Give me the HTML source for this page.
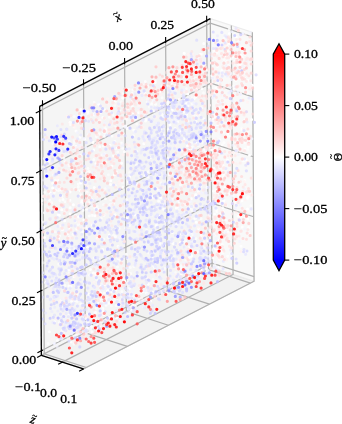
<!DOCTYPE html>
<html><head><meta charset="utf-8"><style>html,body{margin:0;padding:0;background:#fff;}svg{display:block;will-change:transform;}</style></head>
<body><svg width="342" height="424" viewBox="0 0 342 424">
<rect width="342" height="424" fill="#fff"/>
<polygon points="39.64,106.31 210.32,18.57 212.06,267.59 41.38,355.32" fill="#f5f5f5" stroke="#e8e8e8" stroke-width="1.2" stroke-linejoin="round"/>
<polygon points="41.38,355.32 212.06,267.59 254.07,281.22 83.39,368.96" fill="#f2f2f2" stroke="#dedede" stroke-width="1.2" stroke-linejoin="round"/>
<polygon points="210.32,18.57 252.34,32.21 254.07,281.22 212.06,267.59" fill="#f9f9f9" stroke="#ececec" stroke-width="1.2" stroke-linejoin="round"/>
<g><polyline points="42.51,104.84 44.24,353.85 86.26,367.49" fill="none" stroke="#b0b0b0" stroke-width="1.2"/><polyline points="83.55,83.74 85.29,332.75 127.30,346.39" fill="none" stroke="#b0b0b0" stroke-width="1.2"/><polyline points="124.60,62.64 126.33,311.65 168.35,325.29" fill="none" stroke="#b0b0b0" stroke-width="1.2"/><polyline points="165.64,41.54 167.38,290.55 209.39,304.19" fill="none" stroke="#b0b0b0" stroke-width="1.2"/><polyline points="206.69,20.44 208.43,269.46 250.44,283.09" fill="none" stroke="#b0b0b0" stroke-width="1.2"/><polyline points="41.34,350.79 212.03,263.06 254.04,276.69" fill="none" stroke="#b0b0b0" stroke-width="1.2"/><polyline points="40.93,290.84 211.61,203.11 253.63,216.74" fill="none" stroke="#b0b0b0" stroke-width="1.2"/><polyline points="40.51,230.89 211.19,143.16 253.21,156.79" fill="none" stroke="#b0b0b0" stroke-width="1.2"/><polyline points="40.09,170.94 210.78,83.21 252.79,96.84" fill="none" stroke="#b0b0b0" stroke-width="1.2"/><polyline points="39.67,110.99 210.36,23.26 252.37,36.89" fill="none" stroke="#b0b0b0" stroke-width="1.2"/><polyline points="41.38,355.32 212.06,267.59 210.32,18.57" fill="none" stroke="#b0b0b0" stroke-width="1.2"/><polyline points="62.38,362.14 233.07,274.41 231.33,25.39" fill="none" stroke="#b0b0b0" stroke-width="1.2"/><polyline points="83.39,368.96 254.07,281.22 252.34,32.21" fill="none" stroke="#b0b0b0" stroke-width="1.2"/></g>
<g fill="none" stroke-linecap="round"><path d="M176.6 200.1h0M79.7 145.7h0M233.6 86.0h0M110.5 199.6h0M192.1 154.5h0M118.0 288.6h0M247.8 149.2h0M195.3 195.9h0M172.1 198.2h0M62.6 145.3h0M129.0 149.5h0M184.6 98.5h0M241.1 47.0h0M171.3 165.9h0M185.2 264.9h0M130.4 267.6h0M248.4 233.6h0M113.5 235.0h0M207.3 75.0h0M245.7 52.5h0M195.3 164.7h0M91.0 198.8h0M154.7 87.0h0M219.4 176.1h0M147.1 102.1h0M191.9 96.5h0M161.0 182.6h0M104.8 118.7h0M101.2 323.9h0M194.2 206.2h0M72.1 230.0h0M244.5 142.4h0M99.2 329.6h0M165.0 268.4h0M117.9 258.6h0M221.3 80.4h0M194.9 280.3h0M185.7 154.6h0M73.2 144.5h0M94.1 102.2h0M117.5 266.9h0M217.7 88.6h0M62.2 330.6h0M172.4 180.9h0M100.3 296.3h0M195.8 271.0h0M93.2 215.5h0M183.2 285.6h0M209.2 87.4h0M88.4 331.5h0M116.0 185.8h0M148.6 253.0h0M128.4 298.4h0M186.5 88.5h0M78.1 224.8h0M219.8 172.6h0M58.7 264.3h0M200.6 150.4h0M229.5 129.0h0M101.3 218.3h0M98.0 329.3h0M138.9 105.9h0M71.8 293.0h0M109.9 219.8h0M123.9 204.6h0M155.3 91.7h0M42.9 231.3h0M173.6 83.3h0M100.1 300.5h0M81.1 233.0h0M210.1 232.5h0M185.3 175.0h0M119.3 228.6h0M106.5 284.4h0M102.0 155.1h0M162.4 156.9h0M87.8 313.9h0M188.9 66.7h0M235.5 236.2h0M126.9 312.8h0M177.1 179.1h0M131.4 307.9h0M237.3 75.0h0M70.1 191.5h0M203.5 92.7h0M69.0 315.1h0M113.0 215.9h0M239.4 65.6h0M173.9 158.1h0M99.1 322.5h0M215.9 162.0h0M59.9 200.4h0M108.7 237.5h0M196.0 163.1h0M97.3 325.0h0M97.2 206.5h0M109.4 117.2h0M178.5 79.7h0M217.8 267.6h0M176.2 176.9h0M223.5 226.7h0M125.7 208.0h0M223.8 172.7h0M110.1 284.7h0M119.3 103.5h0M133.7 266.4h0M111.7 317.9h0M146.6 230.1h0M75.5 221.4h0M220.5 213.7h0M102.3 110.9h0M202.0 53.9h0M196.8 271.6h0M219.7 140.4h0M66.6 288.9h0M139.1 299.8h0M195.0 66.9h0M151.8 131.1h0M128.9 89.4h0M228.4 55.4h0M91.7 205.4h0M101.4 312.2h0M122.9 278.5h0M198.9 143.9h0M48.2 343.5h0M244.7 119.8h0M193.9 219.0h0M198.6 145.7h0M135.5 117.7h0M55.2 296.8h0M149.4 281.5h0M215.0 263.7h0M159.7 166.9h0M191.3 209.3h0M248.3 131.4h0M185.9 127.4h0M193.7 272.0h0M190.9 262.8h0M74.2 143.2h0M148.5 187.7h0M51.2 193.9h0M202.6 142.7h0M171.9 174.1h0M210.0 156.7h0M106.2 212.7h0M89.7 176.8h0M108.1 237.5h0M111.3 306.1h0M99.3 291.0h0M238.4 64.8h0M145.1 114.9h0M129.5 172.5h0M93.1 327.7h0M125.1 126.9h0M152.5 102.4h0M124.4 152.0h0M191.4 142.9h0M157.7 275.1h0M147.7 207.7h0M113.2 312.1h0M208.8 210.3h0M105.4 132.1h0M80.7 194.8h0M111.4 287.2h0M117.7 152.0h0M202.4 142.2h0M191.1 237.2h0M152.9 197.9h0M131.4 292.9h0M149.5 107.0h0M111.1 112.3h0M136.8 124.1h0M182.0 270.8h0M139.3 103.4h0M129.4 225.4h0M174.0 91.5h0M232.5 254.7h0M114.8 105.2h0M128.2 106.2h0M230.1 136.9h0M165.8 175.5h0M237.6 181.8h0M250.8 205.4h0M192.9 234.5h0M78.2 189.8h0M152.3 80.9h0M127.8 188.4h0M108.8 275.2h0M180.9 207.4h0M214.1 50.7h0M175.0 128.3h0M161.8 86.1h0M188.6 234.2h0M105.0 134.5h0M96.7 142.0h0M159.7 158.5h0M186.8 74.8h0M129.2 210.0h0M63.4 241.8h0M156.8 93.4h0M58.5 290.4h0M233.5 126.0h0M112.1 301.4h0M64.9 201.7h0M233.0 119.2h0M210.5 147.0h0M75.3 215.1h0" stroke="#ffffff" stroke-width="3" stroke-opacity="0.6"/><path d="M221.8 70.6h0M103.9 314.8h0M176.4 208.0h0M129.6 313.1h0M218.9 175.3h0M152.3 231.5h0M179.2 201.8h0M47.0 173.4h0M218.3 189.7h0M195.9 183.0h0M48.7 161.3h0M136.0 118.3h0M90.4 269.5h0M101.4 310.6h0M102.6 249.6h0M69.1 237.1h0M76.0 131.0h0M231.5 157.3h0M58.2 214.5h0M223.2 211.7h0M238.2 216.2h0M216.1 172.0h0M247.8 219.1h0M240.4 64.4h0M127.3 128.5h0M84.6 138.9h0M154.5 91.7h0M186.6 69.9h0M200.4 54.2h0M236.3 36.9h0M217.1 126.0h0M234.0 89.6h0M103.8 132.0h0M88.3 294.1h0M203.5 165.3h0M170.0 124.7h0M65.1 161.7h0M102.8 117.5h0M208.5 216.7h0M213.9 168.3h0M197.0 115.0h0M51.7 202.8h0M177.7 264.7h0M83.1 210.3h0M113.6 203.5h0M70.0 228.8h0M160.0 91.4h0M125.7 126.0h0M183.2 151.0h0M155.2 82.6h0M64.6 220.7h0M68.9 285.9h0M182.9 242.3h0M180.9 274.4h0M132.2 93.6h0M87.7 172.8h0M184.2 203.7h0M94.9 263.9h0M75.9 146.5h0M191.1 232.2h0M114.8 141.5h0M83.8 219.8h0M229.3 33.5h0M122.3 236.7h0M92.1 332.1h0M203.6 157.7h0M192.3 151.5h0M55.3 208.9h0M196.3 175.0h0M76.8 229.0h0M98.2 209.5h0M77.2 337.9h0M102.0 274.6h0M104.8 154.1h0M185.4 265.0h0M108.7 303.2h0M238.6 40.9h0M112.5 203.9h0M188.8 150.7h0M171.1 200.9h0M89.2 171.5h0M213.0 202.9h0M196.6 279.8h0M122.5 93.7h0M111.9 166.3h0M41.6 289.4h0M167.7 104.6h0M218.1 267.7h0M109.2 234.9h0M111.2 290.2h0M187.0 70.9h0M177.5 121.7h0M231.4 58.9h0M111.8 291.4h0M197.4 175.9h0M115.9 290.6h0M187.0 275.1h0M95.2 273.6h0M116.6 317.7h0M94.3 187.5h0M82.8 231.4h0M213.7 249.1h0M87.4 247.3h0M191.6 174.9h0M197.3 274.0h0M172.5 232.6h0M227.8 134.1h0M61.7 209.8h0M196.7 182.8h0M114.8 280.0h0M103.3 310.9h0M209.4 240.6h0M51.7 238.6h0M148.4 284.2h0M128.3 182.1h0M188.8 258.1h0M134.7 215.1h0M159.7 175.4h0M75.5 234.7h0M194.2 98.4h0M207.2 164.6h0M196.8 89.2h0M246.1 160.0h0M94.6 276.1h0M59.6 225.8h0M104.2 154.1h0M205.1 151.1h0M71.6 301.0h0M91.3 329.2h0M215.5 245.9h0M148.8 300.2h0M158.6 201.0h0M203.8 43.5h0M227.4 121.2h0M190.6 238.0h0M167.8 102.2h0M238.8 121.5h0M133.4 242.6h0M109.0 316.4h0M121.0 300.0h0M182.1 139.4h0M123.0 187.5h0M100.0 120.5h0M173.2 243.6h0M174.9 158.9h0M126.2 254.2h0M182.5 77.3h0M236.7 54.3h0M189.7 200.6h0M232.5 195.8h0M168.9 169.1h0M102.8 308.4h0M178.0 200.7h0M104.6 313.5h0M93.2 273.1h0M186.4 116.5h0M114.3 174.7h0M163.6 209.2h0M209.1 236.1h0M208.3 137.1h0M81.8 249.0h0M199.0 213.9h0M227.5 159.9h0M209.4 201.3h0M223.4 201.2h0M133.0 310.2h0M44.5 237.5h0M68.7 269.9h0M240.9 216.2h0M138.6 112.4h0M81.9 201.0h0M79.6 123.0h0M201.8 88.4h0M206.4 82.7h0M191.3 198.7h0M145.2 175.6h0M71.0 286.6h0M143.8 143.8h0M132.7 304.9h0M210.4 119.2h0M198.5 228.6h0M153.0 292.5h0M63.0 199.6h0M159.2 216.5h0M185.4 159.2h0M218.8 221.3h0M207.1 265.6h0M217.0 211.5h0M119.8 237.2h0M54.1 151.7h0M237.2 77.8h0M247.5 198.3h0M211.7 75.8h0M154.4 267.2h0M91.2 326.3h0M153.8 110.9h0M242.2 226.9h0M70.0 213.8h0M217.4 66.3h0M113.1 317.8h0M188.5 149.6h0M93.6 149.9h0M103.1 271.3h0M202.4 80.2h0M208.2 166.1h0M70.1 262.4h0M242.3 56.9h0M204.4 132.8h0M143.9 306.9h0M196.2 169.0h0M235.9 76.7h0M62.5 229.8h0M127.4 282.4h0M171.3 189.8h0M247.5 208.9h0M49.3 253.4h0M192.4 77.1h0M191.1 80.2h0M71.3 342.0h0M190.5 256.9h0M68.9 165.3h0M89.5 296.4h0M95.9 163.8h0M207.6 140.3h0M146.2 119.4h0M110.5 184.4h0M189.4 146.3h0M57.8 180.0h0M80.0 123.0h0M71.9 299.3h0" stroke="#ffffff" stroke-width="3" stroke-opacity="0.9"/><path d="M224.0 55.5h0M183.8 242.5h0M94.9 208.0h0M119.9 111.1h0M63.1 333.5h0M78.3 184.0h0M148.4 171.7h0M99.6 274.2h0M216.6 210.1h0M168.0 241.0h0M236.9 59.4h0M116.6 299.7h0M136.6 164.7h0M87.1 192.3h0M105.4 198.5h0M210.9 136.6h0M120.3 167.2h0M194.8 274.3h0M184.2 213.9h0M222.7 252.8h0M195.8 194.2h0M111.1 316.0h0M96.9 134.0h0M43.0 222.0h0M77.1 301.2h0M116.2 305.6h0M224.0 142.5h0M249.0 140.0h0M203.4 247.4h0M200.1 165.1h0M101.6 285.7h0M102.2 98.4h0M87.9 113.2h0M195.5 78.0h0M176.4 224.8h0M223.2 165.6h0M211.3 243.5h0M65.0 285.6h0M162.2 128.5h0M227.7 256.2h0M200.8 186.3h0M152.1 257.8h0M62.1 196.5h0M143.9 286.0h0M163.4 220.8h0M229.3 43.6h0M168.0 181.6h0M74.7 336.3h0M173.0 180.6h0M99.4 259.8h0M96.0 308.6h0M176.2 291.4h0M209.1 154.9h0M156.4 223.7h0M203.1 242.8h0M193.8 77.9h0M126.9 268.1h0M55.5 180.0h0M216.0 152.6h0M214.0 129.0h0M96.4 136.6h0M181.8 165.4h0M171.3 166.2h0M54.8 254.7h0M104.5 136.5h0M54.3 192.5h0M122.7 148.3h0M87.7 327.8h0M97.8 330.3h0M93.8 159.4h0M175.0 159.2h0M208.3 220.5h0M234.6 202.0h0M80.4 155.4h0M225.7 220.3h0M169.5 112.5h0M74.7 300.5h0M44.8 192.3h0M86.0 227.5h0M192.2 103.7h0M247.5 93.5h0M195.9 238.6h0M183.7 111.9h0M180.8 273.1h0M95.5 277.5h0M52.8 143.5h0M113.6 155.8h0M89.0 202.7h0M88.0 168.4h0M201.1 218.7h0M105.0 272.2h0M190.2 273.9h0M63.0 307.5h0M205.6 151.6h0M91.9 215.2h0M125.6 227.7h0M58.5 190.6h0M184.5 157.7h0M203.4 242.0h0M167.0 257.4h0M119.5 260.0h0M121.8 291.6h0M194.0 115.2h0M151.7 215.0h0M208.5 256.4h0M133.1 295.9h0M185.6 240.7h0M69.0 273.4h0M73.9 343.9h0M206.8 266.3h0M196.8 273.2h0M222.4 244.4h0M216.7 71.6h0M185.0 110.7h0M80.7 303.9h0M181.0 265.8h0M128.4 296.1h0M119.4 315.1h0M83.9 266.9h0M133.3 135.8h0M71.7 169.8h0M73.1 234.3h0M100.6 112.8h0M59.5 236.1h0M219.5 84.2h0M72.9 169.9h0M80.7 115.8h0M213.4 120.4h0M189.8 148.2h0M175.1 85.1h0M167.4 293.3h0M163.4 135.0h0M83.9 139.4h0M167.9 158.3h0M226.8 61.6h0M129.9 128.1h0M89.2 324.0h0M162.1 97.7h0M201.1 237.3h0M213.1 250.3h0M105.8 300.6h0M192.5 147.1h0M195.4 218.5h0M42.1 200.5h0M185.9 103.8h0M196.8 158.5h0M44.4 212.7h0M115.3 281.3h0M252.0 87.3h0M100.0 264.4h0M167.4 85.5h0M69.2 141.2h0M99.2 133.8h0M139.1 297.7h0M147.8 86.4h0M49.4 200.1h0M132.9 89.9h0M74.9 248.2h0M78.3 186.7h0M78.8 339.6h0M207.5 228.3h0M223.3 132.2h0M158.6 190.3h0M240.0 54.4h0M190.9 157.2h0M95.8 312.6h0M238.1 237.1h0M79.6 196.3h0M123.9 126.0h0M94.0 114.6h0M162.9 116.3h0M125.3 117.5h0M106.4 275.3h0M113.0 114.8h0M43.2 166.8h0M102.4 284.3h0M93.1 142.5h0M238.6 195.2h0M87.5 186.8h0M183.5 172.1h0M234.7 61.5h0M132.1 101.2h0M74.2 127.0h0M157.0 188.2h0M226.2 228.9h0M215.3 234.0h0M132.2 106.0h0M170.4 87.6h0M206.0 181.6h0M235.8 80.4h0M195.9 161.3h0M169.9 167.0h0M81.1 181.7h0M59.4 322.5h0M112.9 316.0h0M109.7 280.3h0M209.9 230.6h0M130.7 273.6h0M217.2 52.2h0M177.9 206.7h0M222.3 144.7h0M106.7 319.1h0M90.7 190.1h0M196.2 121.4h0M100.2 159.9h0M148.0 176.8h0M103.9 239.1h0M103.1 301.1h0" stroke="#ffffff" stroke-width="3" stroke-opacity="0.7"/><path d="M43.8 227.5h0M119.5 270.9h0M120.8 314.0h0M69.9 200.2h0M98.4 303.6h0M230.0 127.7h0M231.0 73.4h0M168.3 129.6h0M203.0 266.1h0M70.0 192.0h0M151.5 104.3h0M223.7 106.8h0M189.7 148.2h0M169.2 167.2h0M212.1 127.4h0M219.1 240.2h0M105.5 325.1h0M59.1 187.8h0M222.9 223.1h0M204.5 150.0h0M168.9 94.5h0M226.3 44.7h0M208.9 235.2h0M52.7 183.2h0M49.4 331.8h0M247.9 80.2h0M176.5 169.6h0M216.1 251.5h0M100.4 325.7h0M150.9 157.7h0M100.9 298.8h0M214.8 196.5h0M180.1 131.1h0M190.0 80.7h0M152.8 196.5h0M219.4 139.8h0M80.5 223.5h0M67.6 233.7h0M169.1 174.4h0M169.6 261.3h0M127.4 258.4h0M124.6 151.4h0M81.5 172.7h0M115.3 101.3h0M239.2 77.9h0M133.5 301.2h0M86.6 209.0h0M105.7 129.3h0M179.8 70.7h0M63.7 333.2h0M104.1 293.1h0M114.6 298.2h0M134.0 98.3h0M202.8 61.9h0M144.3 85.0h0M115.5 236.6h0M240.2 55.7h0M53.7 174.5h0M188.4 276.7h0M67.3 308.8h0M89.2 216.0h0M224.0 200.3h0M243.5 160.7h0M55.4 210.7h0M201.2 235.2h0M222.8 207.5h0M135.5 306.3h0M224.9 187.7h0M74.8 149.0h0M198.9 58.2h0M214.0 149.0h0M190.6 207.0h0M55.7 190.0h0M181.2 200.3h0M113.0 216.2h0M183.7 139.0h0M110.5 321.3h0M116.3 171.4h0M64.7 323.8h0M179.7 233.8h0M193.0 68.3h0M90.1 330.0h0M248.3 196.7h0M63.9 143.1h0M174.6 166.5h0M221.9 245.2h0M108.0 290.6h0M104.4 284.5h0M96.2 319.9h0M198.3 191.5h0M177.0 89.8h0M226.6 156.8h0M167.9 83.8h0M60.3 150.0h0M162.2 114.4h0M183.1 160.6h0M188.7 103.0h0M90.6 194.9h0M193.7 80.1h0M162.0 86.1h0M161.6 104.9h0M160.0 243.8h0M92.2 199.7h0M248.6 227.5h0M223.7 174.2h0M110.8 295.8h0M176.2 169.9h0M212.9 257.7h0M180.5 184.8h0M63.9 158.3h0M194.7 87.7h0M186.2 204.7h0M126.3 199.5h0M145.3 81.4h0M213.2 118.5h0M106.1 305.2h0M120.1 320.1h0M248.2 146.7h0M218.7 107.3h0M115.9 148.3h0M78.8 115.6h0M136.9 151.6h0M216.0 87.8h0M83.3 206.7h0M215.1 152.3h0M176.1 118.9h0M136.4 117.5h0M93.2 142.4h0M106.0 162.2h0M197.7 251.5h0M145.5 120.9h0M155.2 80.6h0M216.5 190.2h0M153.5 265.5h0M171.0 199.3h0M76.9 333.6h0M118.0 246.2h0M70.1 207.8h0M120.2 271.5h0M178.3 178.9h0M230.6 127.1h0M70.5 124.6h0M102.1 164.0h0M94.9 172.4h0M45.5 282.5h0M147.6 278.3h0M128.9 295.1h0M244.7 180.6h0M203.7 118.8h0M154.4 195.7h0M97.0 238.4h0M199.1 166.6h0M195.5 195.3h0M81.9 203.5h0M61.7 189.7h0M84.3 118.7h0M104.6 109.4h0M97.5 323.1h0M214.6 214.3h0M218.1 170.6h0M95.5 300.9h0M194.0 152.2h0M245.0 149.1h0M175.2 178.3h0M79.9 137.2h0M119.4 294.3h0M215.1 115.0h0M207.1 173.2h0M229.2 43.2h0M94.7 113.8h0M141.2 292.2h0M196.8 144.1h0M133.7 130.2h0M223.9 109.7h0M146.4 293.1h0M217.7 160.4h0M110.1 145.3h0M104.0 215.3h0M203.8 66.1h0M155.6 104.2h0M132.8 112.5h0M97.5 328.6h0M103.3 146.0h0M244.7 78.0h0M129.3 288.4h0M233.8 193.7h0M76.8 294.0h0M82.3 166.8h0M196.4 155.3h0M61.4 189.9h0M169.8 203.5h0M112.0 135.9h0M143.7 291.6h0M109.9 204.8h0M115.1 214.7h0M241.0 246.2h0M176.3 276.6h0M199.7 59.3h0M123.5 280.2h0M201.4 107.7h0M117.7 271.9h0M223.4 176.4h0M125.3 118.8h0M192.5 154.0h0M186.7 114.2h0M92.2 225.1h0M121.5 143.3h0M229.3 29.2h0M169.6 186.8h0M201.7 258.2h0M185.2 212.8h0M157.6 285.7h0M187.9 105.4h0M228.6 136.1h0M96.9 321.1h0M180.4 242.5h0M213.4 191.0h0M79.4 272.2h0M116.8 281.9h0M186.4 102.4h0M191.0 255.9h0M70.9 171.0h0M188.0 120.4h0M123.3 133.5h0M119.4 195.7h0M160.2 204.1h0M153.5 101.0h0M57.4 340.6h0M99.8 146.7h0" stroke="#ffffff" stroke-width="3" stroke-opacity="0.8"/><path d="M172.4 83.9h0M219.3 259.1h0M236.0 142.7h0M58.6 238.3h0M50.5 193.1h0M214.7 117.4h0M95.7 176.3h0M81.7 202.8h0M181.4 268.6h0M232.6 56.9h0M227.0 225.5h0M98.7 104.3h0M156.5 225.8h0M198.1 70.0h0M99.5 330.1h0M73.4 204.8h0M131.8 117.3h0M192.1 150.6h0M252.5 85.3h0M207.0 271.3h0M186.7 64.9h0M60.3 300.9h0M160.7 197.7h0M127.1 217.8h0M184.2 83.7h0M80.4 190.8h0M59.3 215.3h0M163.9 271.5h0M145.2 93.6h0M206.7 269.6h0M191.8 255.8h0M180.2 132.6h0M110.8 180.8h0M177.3 261.7h0M245.4 216.7h0M211.5 150.0h0M107.3 291.1h0M241.1 55.5h0M207.9 240.9h0M80.6 183.0h0M54.8 321.8h0M249.5 155.2h0M242.0 200.8h0M187.5 145.7h0M168.5 108.3h0M195.7 143.0h0M218.0 191.9h0M150.5 300.9h0M179.3 99.3h0M124.7 281.0h0M80.8 109.5h0M46.2 186.2h0M91.4 317.1h0M189.2 247.5h0M85.6 318.4h0M183.6 232.4h0M69.3 250.0h0M207.2 187.3h0M206.7 70.2h0M95.0 312.1h0M147.7 289.7h0M107.0 272.1h0M81.7 178.8h0M196.0 161.8h0M95.1 215.7h0M218.4 80.8h0M164.3 206.1h0M202.5 269.7h0M71.5 247.2h0M86.7 327.8h0M100.7 286.2h0M187.7 94.0h0M225.0 56.2h0M121.6 163.2h0M97.1 162.4h0M172.3 110.1h0M89.8 275.0h0M190.0 201.2h0M222.6 250.9h0M214.9 202.6h0M229.7 194.6h0M100.5 293.1h0M228.0 232.5h0M216.4 249.8h0M177.0 72.4h0M227.4 74.0h0M251.6 119.6h0M78.5 217.1h0M74.2 276.6h0M241.9 129.3h0M131.5 309.9h0M129.6 176.5h0M172.3 159.1h0M244.8 54.2h0M52.6 188.1h0M195.7 97.0h0M137.5 184.6h0M196.3 222.3h0" stroke="#ffffff" stroke-width="3"/><path d="M164.1 244.9h0M199.4 115.3h0M50.0 229.1h0M195.3 186.2h0M55.8 134.4h0M200.3 274.9h0M121.4 101.7h0M251.5 194.6h0M122.7 182.4h0M127.4 109.4h0M175.1 162.4h0M223.3 74.3h0M74.2 140.7h0M74.6 188.6h0M222.2 42.5h0M50.6 201.5h0M55.3 231.8h0M153.1 279.4h0M87.9 134.7h0M207.5 256.3h0M163.0 184.6h0M175.4 272.5h0M114.1 301.0h0M47.8 208.2h0M89.5 302.1h0M118.3 294.5h0M139.8 287.6h0M230.0 103.1h0M241.6 127.9h0M199.4 218.9h0M147.2 98.9h0M177.5 190.6h0M147.9 243.0h0M94.4 115.2h0M183.9 153.6h0M103.5 204.4h0M77.4 332.0h0M85.8 183.6h0M105.4 188.4h0M80.1 311.6h0M96.6 279.5h0M226.4 206.1h0M83.6 287.5h0M183.2 160.8h0M105.0 127.3h0M230.6 253.2h0M40.7 262.6h0M228.1 51.6h0M185.0 247.1h0M71.3 338.6h0M216.7 80.2h0M179.3 209.1h0M166.7 103.1h0M243.3 75.2h0M188.9 278.7h0M62.2 171.5h0M60.9 139.3h0M224.0 59.4h0M87.9 321.6h0M165.6 77.5h0M107.3 298.0h0M155.2 98.1h0M94.0 258.0h0M244.3 250.8h0M115.0 127.0h0M247.1 197.3h0M174.2 256.2h0M212.5 268.0h0M214.0 268.5h0M129.6 190.1h0M108.4 174.7h0M96.0 305.1h0M212.6 225.2h0M116.2 250.2h0M167.6 199.2h0M185.8 260.1h0M224.5 37.4h0M225.1 136.3h0M56.3 181.3h0M127.0 119.6h0M154.4 282.9h0M43.4 262.8h0M209.8 126.6h0M228.4 65.5h0M192.3 210.8h0M235.9 59.2h0M67.4 336.6h0M149.2 231.4h0" stroke="#ffffff" stroke-width="3" stroke-opacity="0.5"/><path d="M209.5 96.1h0M202.5 152.0h0M193.0 61.6h0M178.0 281.6h0M210.3 78.2h0M200.7 140.1h0M226.6 112.2h0M129.6 183.8h0M85.1 332.6h0M96.9 324.1h0M103.1 176.3h0M145.2 141.9h0M149.3 199.6h0M67.3 170.8h0M185.7 203.8h0M163.4 105.3h0M103.3 208.0h0M128.1 294.3h0M205.0 64.9h0M74.9 313.4h0M155.6 95.1h0M222.9 107.5h0M82.2 267.5h0M102.8 157.8h0M171.2 268.9h0M237.1 164.0h0M220.9 210.3h0M179.7 99.1h0M240.1 113.9h0M219.0 211.3h0M205.2 263.9h0M213.2 217.0h0M178.5 172.8h0M216.9 195.1h0M110.1 227.8h0M92.7 318.1h0M122.3 174.7h0M194.2 247.7h0M95.3 332.5h0M80.4 145.9h0M192.2 95.3h0M185.7 219.8h0M232.2 198.2h0M122.9 172.0h0M51.1 202.4h0M245.6 152.3h0M111.7 286.3h0M96.3 268.4h0M184.0 161.9h0M107.0 320.7h0M131.8 215.2h0M146.6 98.9h0M118.2 297.3h0M83.8 111.2h0M192.8 178.2h0" stroke="#fff2f2" stroke-width="3" stroke-opacity="0.5"/><path d="M178.9 282.0h0M139.8 241.1h0M240.7 93.2h0M216.5 79.1h0M178.5 259.2h0M247.4 136.6h0M138.8 110.0h0M183.9 92.8h0M179.4 64.7h0M216.7 151.8h0M127.5 282.9h0M164.7 167.0h0M194.7 155.5h0M62.6 156.1h0M98.3 160.8h0M86.2 317.1h0M225.7 103.7h0M100.6 324.4h0M235.8 235.8h0M206.2 219.0h0M103.7 190.7h0M151.7 248.8h0M133.1 301.2h0M160.7 94.5h0M121.5 90.5h0M181.7 93.6h0M245.6 62.5h0M220.4 181.4h0M216.0 130.5h0M175.2 267.9h0M106.1 296.2h0M115.8 310.4h0M166.1 277.0h0M99.6 118.2h0M234.2 75.7h0M83.9 228.0h0M210.6 95.1h0M87.1 304.7h0M213.7 71.5h0M183.6 173.8h0M100.6 294.3h0M112.9 159.7h0M75.1 172.1h0M85.0 184.1h0M97.7 240.2h0M196.5 166.7h0M222.1 74.8h0M142.2 94.2h0M110.4 272.0h0M180.7 63.5h0M111.7 243.8h0M95.3 145.7h0M80.1 161.8h0M183.3 280.4h0M96.2 197.1h0M115.1 292.1h0M188.8 160.9h0M154.9 78.4h0M185.7 250.5h0M209.6 105.3h0M97.3 285.8h0M96.1 235.4h0M84.2 334.7h0M193.0 54.3h0M199.2 88.1h0M74.1 125.4h0M91.8 107.1h0M235.4 109.3h0M183.9 185.9h0M243.7 210.2h0M71.0 331.6h0M119.1 181.4h0M185.0 148.9h0M67.1 116.3h0M173.4 79.8h0M138.6 184.8h0M237.9 110.4h0M219.5 46.7h0M236.9 150.8h0M50.6 290.9h0M243.8 76.4h0M75.0 276.2h0M114.6 123.0h0M208.4 204.2h0M235.2 53.7h0M230.8 248.3h0M94.7 156.6h0M158.6 285.6h0M158.7 93.2h0M242.8 150.4h0M199.4 178.3h0M214.7 161.3h0M232.9 115.4h0M108.5 262.7h0M159.8 89.2h0M71.8 295.6h0M197.8 244.4h0" stroke="#fff2f2" stroke-width="3" stroke-opacity="0.9"/><path d="M198.3 96.5h0M75.4 139.6h0M205.2 74.7h0M139.8 92.2h0M167.7 70.5h0M70.0 340.0h0M76.7 147.5h0M226.6 260.3h0M94.6 145.9h0M52.1 339.0h0M239.8 112.2h0M178.0 195.7h0M110.7 323.2h0M169.9 69.6h0M118.7 183.9h0M67.2 165.1h0M208.2 214.0h0M211.8 115.4h0M212.5 127.6h0M232.4 75.9h0M192.0 114.5h0M110.7 190.0h0M200.7 136.2h0M180.8 277.3h0M175.4 262.9h0M170.7 177.4h0M186.9 279.1h0M203.1 156.4h0M102.2 111.1h0M251.1 90.0h0M216.9 183.3h0M168.3 160.4h0M72.4 293.7h0M148.7 277.5h0M80.1 311.7h0M122.3 303.6h0M109.7 281.8h0M146.1 270.8h0M155.3 298.1h0M217.3 131.6h0M225.6 112.8h0M65.0 212.4h0M124.5 284.9h0M118.3 131.2h0M219.6 174.7h0M56.2 182.4h0M202.0 151.8h0M241.1 60.3h0M98.1 126.1h0M87.4 131.3h0M187.5 207.9h0M77.4 290.8h0M96.0 222.1h0M207.4 238.7h0M238.7 75.9h0M173.8 84.4h0M78.2 204.0h0M154.8 199.0h0M122.5 260.4h0M215.8 139.1h0M245.3 200.1h0M91.7 305.3h0M164.1 201.6h0M187.4 174.5h0M238.1 122.1h0M215.7 201.0h0M215.8 76.8h0M139.0 106.7h0M215.3 158.3h0M246.7 62.5h0M108.6 124.2h0M224.7 69.2h0M252.5 59.4h0M235.4 163.5h0M77.6 299.1h0M214.4 255.9h0M64.0 313.7h0M136.0 86.3h0M229.7 98.8h0M94.0 282.3h0M240.2 151.2h0M170.2 94.4h0M177.2 205.6h0M164.1 252.4h0M137.3 277.3h0M114.7 182.6h0M109.6 197.8h0M187.4 238.4h0M86.7 300.5h0M235.7 115.2h0M94.0 205.5h0M224.7 227.2h0M217.6 180.7h0M84.1 175.6h0M132.2 277.2h0M204.5 235.5h0M82.3 111.4h0M110.8 124.7h0M129.2 96.4h0M56.4 173.0h0M228.0 53.4h0M245.2 35.1h0M142.0 280.1h0M225.9 128.6h0" stroke="#fff2f2" stroke-width="3" stroke-opacity="0.7"/><path d="M187.2 273.2h0M109.9 158.4h0M168.8 252.3h0M197.3 175.1h0M231.5 79.6h0M119.0 211.5h0M238.5 103.7h0M85.1 330.0h0M192.3 106.6h0M202.8 243.6h0M230.8 195.7h0M84.5 321.8h0M199.9 59.9h0M128.4 309.2h0M180.2 207.9h0M221.8 93.7h0M100.7 231.2h0M168.4 133.8h0M237.8 91.8h0M232.3 100.8h0M187.9 150.2h0M194.9 230.5h0M206.2 192.4h0M177.2 200.0h0M173.2 273.6h0M183.8 89.4h0M104.7 288.9h0M85.8 147.6h0M222.3 115.5h0M106.5 258.0h0M178.9 130.5h0M138.9 223.6h0M59.7 163.5h0M182.8 107.8h0M240.6 94.6h0M65.3 251.5h0M88.8 311.7h0M117.7 108.6h0M201.7 193.1h0M132.6 291.5h0M113.5 317.9h0M66.2 230.4h0M212.9 249.9h0M176.3 120.0h0M159.7 108.6h0M94.8 240.1h0M55.2 199.2h0M151.3 207.7h0M226.9 162.1h0M129.5 296.5h0M104.3 154.1h0M164.7 204.2h0M127.5 296.6h0M235.5 208.1h0M157.3 267.9h0M196.8 279.4h0M137.1 255.2h0M53.7 196.7h0M66.8 297.8h0M71.7 333.5h0M192.8 241.9h0M182.1 235.8h0M76.3 172.8h0M170.1 238.4h0M156.2 123.0h0M126.8 284.3h0M68.6 297.8h0M180.8 164.0h0M80.4 120.8h0M138.8 205.9h0M169.6 179.0h0M238.1 115.6h0M239.2 42.8h0M56.8 144.8h0M226.9 72.4h0M181.5 160.0h0M55.6 186.7h0M123.2 201.7h0M105.5 168.1h0M195.5 164.3h0M143.8 193.8h0M197.3 277.1h0M141.2 236.3h0M95.3 165.9h0M162.6 103.0h0M67.0 304.0h0M95.9 131.1h0M171.5 279.3h0M190.5 89.9h0M119.6 237.3h0" stroke="#f2f2ff" stroke-width="3" stroke-opacity="0.9"/><path d="M77.2 219.1h0M57.7 152.0h0M242.5 66.1h0M198.3 182.1h0M132.4 118.7h0M131.3 86.0h0M180.3 276.0h0M105.3 101.5h0M127.1 229.7h0M191.7 188.6h0M95.2 111.0h0M228.4 233.7h0M139.4 298.6h0M196.5 75.6h0M59.0 205.9h0M107.8 104.9h0M142.6 83.1h0M65.8 275.7h0M99.4 293.3h0M194.6 149.1h0M222.1 125.4h0M193.4 265.0h0M229.5 42.1h0M222.5 136.6h0M118.2 284.5h0M142.0 99.5h0M79.8 228.1h0M180.7 256.0h0M41.7 204.2h0M219.5 258.5h0M84.7 169.5h0M190.4 144.7h0M140.6 112.5h0M75.5 342.7h0M63.4 242.3h0M113.0 283.4h0M195.3 233.6h0M154.2 78.4h0M197.2 87.3h0M66.3 264.9h0M112.0 159.9h0M139.0 265.7h0M53.6 149.1h0M221.1 53.4h0M178.2 195.7h0M166.9 207.2h0M163.5 187.5h0M90.6 222.6h0M115.1 104.0h0M117.5 104.6h0M230.8 96.9h0M241.8 71.0h0M59.9 225.2h0M215.0 48.5h0M169.0 290.8h0M119.0 106.3h0M203.3 165.9h0M147.8 89.5h0M236.4 152.2h0M162.8 78.8h0M43.3 195.7h0M52.7 172.7h0M175.8 274.5h0M171.6 87.6h0M199.8 276.7h0M230.3 103.1h0M196.9 179.6h0M148.9 268.3h0M88.4 188.2h0M218.8 47.1h0M130.9 97.6h0M204.5 239.6h0M64.6 144.9h0M216.0 161.7h0M112.1 256.6h0M220.4 95.8h0M107.4 260.6h0M183.6 152.3h0M221.9 163.8h0M246.4 165.6h0M95.2 195.5h0M101.4 121.5h0M106.6 226.4h0M113.4 268.8h0M99.0 155.9h0M122.0 182.1h0M232.7 198.5h0M211.2 234.3h0M82.1 161.2h0M200.0 172.2h0M138.0 238.9h0M215.6 221.8h0M192.4 273.6h0M187.8 199.3h0M221.3 266.5h0M103.7 105.3h0M216.6 123.3h0M230.8 72.8h0M235.6 54.7h0M147.3 289.8h0M78.4 124.8h0M243.5 62.1h0M218.0 110.2h0M186.3 164.2h0M95.0 202.3h0M169.3 178.4h0M242.1 35.3h0M185.6 166.8h0M247.7 213.5h0M202.9 157.9h0M234.3 243.7h0M69.1 123.0h0M180.3 138.3h0M160.4 180.6h0M81.7 164.7h0M193.9 85.5h0M113.2 120.3h0M51.0 164.2h0M75.7 147.6h0M105.1 326.1h0M103.1 255.6h0M110.9 269.7h0M145.3 139.7h0" stroke="#fff2f2" stroke-width="3" stroke-opacity="0.6"/><path d="M64.1 291.1h0M168.5 95.0h0M214.9 262.1h0M119.3 287.4h0M125.6 127.1h0M59.4 306.9h0M66.0 210.1h0M180.7 82.3h0M73.7 209.0h0M112.4 250.8h0M155.9 144.0h0M207.4 195.1h0M184.6 283.2h0M99.6 199.7h0M83.0 170.3h0M201.7 135.2h0M231.9 31.7h0M182.5 100.8h0M78.8 152.3h0M184.1 262.7h0M124.0 285.4h0M199.2 213.5h0M220.5 103.4h0M195.6 154.5h0M177.1 198.7h0M129.0 196.7h0M149.5 175.7h0M156.5 171.9h0M237.7 77.0h0M156.0 154.5h0M203.0 168.8h0M83.7 138.3h0M170.1 76.7h0M210.2 221.1h0M130.5 174.3h0M65.2 261.5h0M100.6 232.5h0M180.3 114.8h0M86.2 329.1h0M239.5 241.4h0M216.0 238.4h0M202.5 263.7h0M95.9 176.5h0M102.6 284.6h0M150.3 226.8h0M224.9 116.8h0M60.5 322.9h0M95.0 244.0h0M155.2 252.5h0M199.1 72.3h0M174.1 225.7h0M224.9 97.0h0M251.9 138.7h0M105.0 122.8h0M244.5 189.2h0M136.3 308.2h0M150.5 256.8h0M72.7 331.9h0M75.5 115.2h0M146.5 165.6h0M217.4 106.2h0M63.0 245.9h0M80.5 327.0h0M231.3 181.3h0M94.3 323.5h0M190.5 201.4h0M218.5 183.1h0M163.0 243.7h0M129.8 115.8h0M143.8 208.6h0M105.2 158.5h0M185.0 116.2h0M191.6 269.8h0M53.8 252.7h0M82.0 215.9h0M93.3 223.1h0M152.0 241.2h0M70.3 328.2h0M230.2 73.9h0M57.2 152.3h0M185.1 268.9h0M240.2 204.7h0M149.8 242.5h0M230.3 87.2h0M208.7 215.3h0M136.3 115.8h0M197.1 58.8h0M128.5 209.8h0M167.7 182.8h0" stroke="#f2f2ff" stroke-width="3" stroke-opacity="0.8"/><path d="M186.7 148.5h0M179.4 161.2h0M216.8 126.9h0M109.5 286.9h0M101.6 251.5h0M140.4 182.4h0M54.6 298.1h0M107.7 275.6h0M238.6 102.6h0M186.3 131.7h0M135.6 212.4h0M249.9 44.3h0M135.3 271.7h0M232.7 145.3h0M134.1 132.4h0M216.2 166.7h0M182.5 269.4h0M186.3 105.5h0M122.2 145.7h0M110.6 289.9h0M183.9 96.6h0M153.8 101.0h0M160.2 112.8h0M81.4 209.5h0M120.5 124.9h0M61.9 339.2h0M95.2 267.5h0M202.1 171.0h0M111.0 198.6h0M75.5 267.7h0M198.4 142.7h0M57.1 346.6h0M167.0 214.1h0M209.7 216.1h0M172.7 120.7h0M59.8 147.9h0M65.5 318.7h0M150.4 218.0h0M181.6 138.4h0M217.4 160.0h0M130.2 116.4h0M187.9 199.1h0M174.3 184.3h0M82.0 174.1h0M88.9 131.7h0M211.1 180.6h0M65.1 305.1h0M202.5 83.7h0M194.5 236.0h0M239.5 190.9h0M247.1 60.4h0M128.4 112.3h0M208.9 229.9h0M222.9 195.9h0M147.5 294.2h0M121.8 218.6h0M184.9 64.4h0M68.5 280.7h0M172.2 284.4h0M138.2 249.6h0M121.8 128.8h0M197.4 67.6h0M140.1 306.7h0M79.2 312.4h0M111.6 121.5h0M194.5 148.1h0M75.5 149.6h0M77.4 290.8h0M181.8 171.1h0M156.6 173.9h0M58.6 140.7h0M216.4 78.2h0M131.6 195.4h0M220.9 134.3h0M220.4 81.5h0M97.2 306.2h0M210.0 89.7h0M91.8 203.9h0M47.7 272.7h0M79.1 232.3h0M172.9 90.9h0M101.2 289.8h0M65.8 307.3h0M119.4 247.2h0M227.3 120.9h0M169.7 162.7h0M77.4 132.5h0M225.8 232.9h0M210.1 248.2h0M175.3 99.5h0M55.7 227.0h0M229.3 53.9h0M223.3 153.5h0M238.3 154.6h0M181.3 108.6h0M186.7 193.5h0M137.7 220.5h0M144.0 227.1h0M226.3 65.9h0M121.9 239.3h0M159.8 191.2h0" stroke="#f2f2ff" stroke-width="3" stroke-opacity="0.7"/><path d="M203.8 83.6h0M222.9 135.6h0M140.0 287.0h0M126.7 315.2h0M175.3 277.7h0M73.9 341.4h0M204.5 184.1h0M208.6 215.7h0M199.9 95.8h0M175.9 165.6h0M97.8 268.7h0M236.8 238.6h0M119.0 195.9h0M194.2 90.0h0M190.7 278.5h0M226.4 259.1h0M175.9 268.9h0M172.3 81.1h0M243.5 110.3h0M182.9 72.0h0M150.4 95.5h0M52.4 207.8h0M239.8 109.9h0M229.9 153.8h0M225.6 203.6h0M227.1 130.9h0M81.1 146.7h0M201.2 157.1h0M151.3 165.0h0M200.4 74.5h0M187.2 265.3h0M150.8 96.5h0M98.2 163.6h0M212.2 224.3h0M141.8 298.2h0M211.9 178.7h0M90.2 128.7h0M231.0 46.7h0M42.8 196.4h0M202.1 100.6h0M185.6 267.0h0M188.4 217.5h0M87.3 194.1h0M204.2 236.8h0M57.1 178.0h0M218.0 247.0h0M185.0 151.0h0M247.8 136.5h0M170.4 75.4h0M196.4 204.0h0M143.1 126.9h0M216.0 157.6h0M97.1 166.4h0M83.4 109.7h0M99.6 316.0h0M108.5 104.2h0M203.1 226.6h0M239.2 52.1h0M59.7 187.7h0M220.2 207.2h0M126.6 108.5h0M57.1 252.5h0M249.6 42.6h0M228.1 142.7h0M158.1 244.7h0M187.6 76.8h0M183.9 134.3h0M188.3 156.1h0M248.4 192.9h0M240.7 220.4h0M173.4 191.3h0M198.4 227.3h0M118.7 257.2h0M218.2 197.0h0M93.5 275.6h0M84.8 222.0h0M163.9 255.8h0M78.0 148.7h0M176.6 262.0h0M150.7 285.9h0M158.2 295.8h0M228.3 177.5h0M244.3 181.4h0M247.4 102.0h0M107.5 98.6h0M64.7 210.5h0M63.1 298.7h0M86.6 206.9h0M142.4 235.8h0M205.0 69.8h0M220.1 60.1h0M154.7 195.1h0M178.2 188.8h0M247.0 72.3h0M140.3 230.3h0M132.0 306.8h0" stroke="#fff2f2" stroke-width="3" stroke-opacity="0.8"/><path d="M130.2 292.9h0M192.2 56.7h0M146.3 111.9h0M121.2 264.0h0M175.9 146.4h0M251.0 86.2h0M79.0 222.1h0M247.6 144.6h0M213.1 155.4h0M123.0 154.7h0M218.2 186.8h0M178.7 244.3h0M240.4 57.1h0M85.1 113.5h0M239.8 48.0h0M116.1 136.5h0M243.5 128.9h0M102.0 314.0h0M137.4 245.7h0M217.9 71.8h0M232.5 152.5h0M129.3 145.4h0M70.3 237.6h0M100.0 106.8h0M97.9 239.3h0M138.0 214.9h0M193.7 224.6h0M210.1 63.1h0M56.7 318.8h0M129.1 299.4h0M66.2 331.0h0M156.1 117.3h0M202.8 175.9h0M182.3 193.8h0M108.6 130.7h0M58.5 259.8h0M240.9 251.6h0M225.4 107.8h0M58.2 177.1h0M169.7 93.8h0M119.8 305.2h0M113.2 212.2h0M232.9 120.4h0M86.4 332.9h0M87.4 186.0h0M181.6 272.4h0M101.8 159.7h0M198.9 193.5h0M60.2 197.6h0" stroke="#fff2f2" stroke-width="3"/><path d="M92.8 172.5h0M206.2 149.7h0M51.6 193.9h0M78.5 145.3h0M207.9 270.5h0M210.9 121.0h0M161.4 206.6h0M193.8 102.9h0M44.3 158.6h0M82.5 111.8h0M130.7 118.1h0M114.1 296.4h0M84.1 248.2h0M133.5 260.3h0M114.5 147.5h0M195.2 128.7h0M53.0 166.9h0M136.6 232.8h0M84.4 114.6h0M128.2 294.2h0M74.5 268.4h0M148.8 101.2h0M220.6 163.6h0M212.7 78.0h0M164.0 82.9h0M174.2 158.8h0M242.9 33.5h0M212.8 98.1h0M169.2 232.2h0M130.0 98.8h0M189.6 234.3h0M161.4 157.3h0M85.8 118.4h0M162.1 292.9h0M209.8 258.4h0M210.3 273.4h0M199.5 187.0h0M228.8 92.9h0M94.8 328.1h0M227.3 75.9h0M203.6 162.3h0M125.7 292.5h0M54.3 343.5h0M194.2 110.5h0M142.6 212.0h0M144.5 290.8h0M219.0 191.4h0M194.8 233.9h0M98.6 163.9h0M103.0 129.4h0" stroke="#f2f2ff" stroke-width="3"/><path d="M134.3 245.3h0M245.5 67.5h0M176.6 169.2h0M143.2 135.7h0M81.2 204.5h0M220.2 103.0h0M203.3 272.0h0M71.2 283.1h0M173.2 254.0h0M222.6 91.4h0M158.8 270.6h0M172.4 86.8h0M152.1 121.9h0M125.3 208.2h0M172.1 238.5h0M82.3 147.5h0M232.1 213.4h0M139.4 108.4h0M155.4 274.6h0M128.5 259.9h0M162.2 293.4h0M178.9 224.7h0M162.2 285.7h0M226.3 110.0h0M101.4 263.0h0M166.1 169.8h0M107.4 187.2h0M185.0 252.9h0M156.6 208.4h0M101.2 309.6h0M179.7 126.0h0M148.8 156.7h0M90.2 328.9h0M237.2 150.3h0M200.3 246.0h0M158.5 174.2h0M205.6 84.6h0M144.5 139.5h0M118.3 146.8h0M207.6 178.2h0M179.1 136.3h0M76.6 210.4h0M204.4 60.6h0M208.4 41.3h0M203.5 277.2h0M136.4 298.7h0M186.8 137.2h0M86.1 330.7h0M47.3 185.5h0M230.1 93.1h0M62.5 299.3h0M104.9 148.7h0M143.3 92.5h0M142.5 305.9h0M103.3 154.5h0M180.0 257.5h0M189.0 241.6h0M76.5 148.0h0M180.4 187.3h0M111.0 204.9h0M69.8 148.9h0M92.3 205.0h0M53.8 209.0h0M47.2 164.7h0M226.5 74.9h0M198.4 263.0h0M194.0 90.3h0M237.1 70.1h0M45.8 212.7h0M171.5 218.6h0M182.2 91.5h0M195.8 178.8h0M89.6 234.0h0M166.7 145.7h0M137.6 201.2h0M147.2 187.5h0M199.1 224.4h0" stroke="#f2f2ff" stroke-width="3" stroke-opacity="0.6"/><path d="M71.4 332.4h0M211.1 56.1h0M189.6 280.6h0M66.0 166.6h0M129.5 190.6h0M69.8 138.8h0M180.9 115.1h0M189.4 72.6h0M160.2 281.6h0M181.7 283.7h0M141.3 114.6h0M101.4 289.5h0M133.4 196.2h0M190.6 267.9h0M129.0 186.8h0M189.6 97.8h0M122.9 226.2h0M122.9 144.6h0M242.5 66.5h0M168.2 197.0h0M80.8 144.6h0M43.3 180.1h0M99.3 165.3h0M173.6 288.1h0M242.2 86.0h0M244.8 228.7h0M225.9 35.7h0M209.0 220.5h0M216.8 267.2h0M209.7 56.5h0M166.3 278.8h0M98.3 102.5h0M159.8 85.9h0M226.3 124.9h0M55.6 184.8h0M204.9 262.4h0M127.8 140.0h0M250.2 32.2h0M134.7 143.0h0M70.2 216.8h0M118.3 207.7h0M159.7 103.3h0M58.5 140.2h0M57.3 188.0h0M213.5 234.4h0" stroke="#f2f2ff" stroke-width="3" stroke-opacity="0.5"/><path d="M55.6 209.8h0M118.6 224.3h0M203.8 138.8h0M96.4 221.0h0M149.5 302.1h0M142.8 258.4h0M171.0 143.3h0M164.6 108.5h0M204.3 189.8h0M141.7 233.0h0M188.0 124.4h0M109.8 249.5h0M151.4 227.1h0M143.2 138.3h0M170.2 111.2h0M126.8 202.2h0M70.9 298.7h0M109.1 190.2h0M124.0 304.1h0M171.6 157.1h0M159.8 250.6h0M53.0 291.6h0M143.1 214.1h0M187.3 127.3h0M146.7 282.7h0M117.9 261.5h0M68.5 326.1h0M177.9 149.4h0M192.0 274.2h0M64.8 150.7h0M151.3 212.6h0M199.4 126.5h0M199.4 277.9h0M152.1 130.2h0M185.8 270.6h0M99.0 269.9h0M131.4 169.5h0M165.4 286.5h0M52.7 148.8h0M81.6 241.5h0M54.7 307.3h0M176.2 289.5h0M62.5 205.6h0M156.4 155.8h0M125.8 174.9h0M188.4 225.8h0M151.4 271.9h0M179.8 118.6h0M94.7 200.6h0M176.0 175.8h0M143.3 180.7h0M161.1 170.6h0M163.9 112.2h0M149.7 127.7h0M145.5 233.0h0M135.0 93.8h0M133.2 231.1h0M52.8 322.5h0M174.1 106.2h0M144.8 259.7h0M57.9 310.9h0M175.3 100.3h0M170.4 199.2h0M178.8 106.4h0M64.9 324.3h0M152.3 119.7h0M75.0 309.3h0M143.1 195.6h0M224.9 35.8h0M217.5 269.5h0M162.3 228.5h0M172.3 159.3h0M148.0 288.5h0M53.2 288.5h0M71.6 254.4h0M168.6 288.6h0M179.4 113.8h0M71.4 252.3h0M126.9 178.7h0M163.8 231.0h0M206.4 262.6h0M151.9 209.9h0" stroke="#e6e6ff" stroke-width="3" stroke-opacity="0.6"/><path d="M187.2 69.3h0M72.3 237.9h0M135.6 96.1h0M189.7 177.6h0M121.5 134.7h0M197.3 71.6h0M139.3 285.6h0M103.2 214.4h0M170.3 182.4h0M211.5 54.3h0M125.0 97.0h0M216.7 233.7h0M226.8 112.7h0M192.7 60.2h0M166.7 194.9h0M99.5 323.8h0M161.9 187.3h0M176.4 76.2h0M133.8 285.6h0M236.3 28.8h0M228.0 155.7h0M172.9 287.4h0M94.6 172.4h0M82.2 336.1h0M110.9 221.0h0M199.1 79.6h0M203.5 82.7h0M197.8 86.2h0M228.5 38.8h0M202.4 169.8h0M174.3 290.8h0M81.2 118.1h0M93.2 106.9h0M237.1 120.8h0M212.6 147.6h0M240.6 181.4h0M186.3 170.5h0M73.7 165.7h0M59.3 168.4h0M197.7 114.1h0M241.2 211.7h0M121.5 139.0h0M238.4 55.1h0M180.5 260.3h0M203.4 190.1h0M144.4 133.9h0M147.1 297.8h0M195.0 205.9h0M115.6 209.6h0M176.2 72.5h0M225.6 43.9h0M140.1 235.1h0M216.7 195.3h0M238.1 86.1h0M103.1 328.9h0M108.0 271.3h0M108.6 275.1h0M116.1 302.4h0M204.2 276.4h0M208.0 69.2h0M193.7 64.5h0M217.6 169.5h0M246.0 59.6h0M140.7 302.1h0M90.2 316.8h0M213.1 73.0h0M101.7 270.2h0M150.2 100.1h0M61.1 145.8h0M66.5 189.8h0M216.8 247.3h0M116.8 157.6h0M228.0 124.5h0M75.3 207.9h0M210.6 114.9h0M247.1 137.2h0M94.1 309.9h0" stroke="#ffe6e6" stroke-width="3" stroke-opacity="0.7"/><path d="M186.1 123.2h0M129.3 308.5h0M79.0 331.3h0M54.4 184.9h0M205.0 120.5h0M192.1 262.8h0M68.3 280.0h0M135.4 310.1h0M206.6 147.5h0M197.0 140.6h0M186.0 264.1h0M79.6 259.7h0M160.9 218.8h0M171.1 208.4h0M199.3 261.8h0M114.0 207.2h0M79.7 295.8h0M74.9 220.7h0M150.1 140.3h0M59.0 148.4h0M167.0 261.3h0M54.7 175.3h0M170.1 92.0h0M50.6 299.1h0M167.4 120.4h0M157.5 214.7h0M172.5 188.1h0M151.0 150.8h0M119.9 94.7h0M107.6 227.3h0M154.1 162.0h0M86.0 331.8h0M175.4 235.6h0" stroke="#e6e6ff" stroke-width="3"/><path d="M163.2 150.5h0M107.5 285.5h0M76.3 256.2h0M160.5 254.3h0M196.7 126.4h0M230.7 249.9h0M183.9 279.2h0M188.4 136.1h0M247.1 122.0h0M186.4 251.5h0M178.9 253.2h0M68.7 323.0h0M200.8 252.2h0M57.4 125.8h0M52.8 276.1h0M61.5 318.6h0M196.6 206.4h0M75.7 246.8h0M179.1 112.9h0M110.7 212.1h0M145.1 181.7h0M222.9 198.6h0M164.2 263.1h0M122.4 167.9h0M170.3 127.6h0M190.2 144.6h0M158.6 270.3h0M123.2 248.9h0M147.5 263.9h0M92.1 249.2h0M171.1 201.4h0M66.3 306.5h0M152.6 156.3h0M212.4 204.6h0M130.8 286.5h0M89.0 251.3h0M66.7 257.8h0M137.3 170.6h0M161.6 261.4h0M201.0 260.2h0M152.0 139.6h0M121.7 120.1h0M80.8 135.0h0M55.7 274.7h0M154.4 236.6h0M107.6 261.0h0M206.3 252.9h0M110.8 257.3h0M67.1 306.6h0M164.8 250.2h0M139.2 220.9h0M52.2 157.9h0M70.6 277.6h0M68.8 278.6h0M170.4 194.0h0M174.1 92.5h0M67.4 321.2h0M88.4 240.8h0M105.1 244.3h0M135.2 116.5h0M75.8 249.7h0M103.2 288.6h0M235.7 86.8h0M86.0 249.3h0M237.9 71.1h0M136.8 248.8h0M96.6 248.5h0M47.2 280.4h0M108.7 299.5h0M73.4 211.5h0M75.6 314.6h0M161.1 117.8h0M51.8 258.1h0M169.2 131.2h0M77.9 273.9h0M159.6 235.3h0M151.6 252.9h0M89.8 299.6h0M209.1 242.4h0M82.3 258.2h0M179.8 219.5h0M114.2 142.3h0M45.7 312.9h0" stroke="#e6e6ff" stroke-width="3" stroke-opacity="0.7"/><path d="M232.5 203.4h0M103.4 176.1h0M217.9 163.0h0M235.3 230.3h0M213.9 199.7h0M237.7 72.8h0M218.8 228.9h0M213.9 159.9h0M79.5 167.2h0M226.0 234.7h0M186.3 150.8h0M239.1 200.0h0M222.6 230.7h0M194.0 170.2h0M223.3 249.7h0M208.6 201.1h0M168.4 88.1h0M99.2 190.7h0M215.2 217.0h0M184.9 151.6h0M121.0 286.5h0M48.5 196.4h0M123.2 204.6h0M229.7 84.9h0M128.4 304.0h0M211.3 84.1h0M229.7 119.6h0M178.3 205.3h0M183.3 264.6h0M116.7 288.0h0M233.9 231.8h0M73.0 298.9h0M189.7 218.0h0M164.7 197.4h0M107.6 266.2h0M199.9 74.1h0M184.4 186.6h0M110.4 122.9h0M112.7 102.4h0M101.7 167.3h0M227.0 175.1h0M225.0 156.7h0M70.3 263.7h0M239.1 235.9h0M224.1 87.9h0M90.8 138.8h0M100.2 161.8h0M97.8 112.1h0M88.8 153.0h0M83.8 190.4h0M191.8 64.1h0M235.8 144.1h0M114.5 254.8h0M245.1 184.6h0M208.5 92.0h0M142.0 115.9h0M114.6 275.9h0M226.8 57.8h0M91.8 194.4h0M227.0 53.6h0M188.5 248.9h0M171.6 71.9h0M170.6 202.9h0M184.1 151.9h0M131.0 102.3h0M195.6 151.1h0M115.8 284.6h0M212.3 93.8h0M117.2 116.0h0M123.7 285.4h0M218.0 123.2h0M70.4 283.4h0M225.2 189.2h0M70.9 175.2h0M210.7 268.3h0" stroke="#ffe6e6" stroke-width="3" stroke-opacity="0.9"/><path d="M111.2 129.5h0M179.3 81.4h0M79.5 178.5h0M68.2 199.8h0M94.8 131.9h0M108.4 320.0h0M222.8 66.5h0M217.0 56.1h0M121.5 285.0h0M63.4 204.1h0M112.0 225.8h0M62.4 205.6h0M193.6 191.3h0M79.4 327.0h0M93.2 167.0h0M229.0 146.9h0M126.1 144.6h0M134.7 103.2h0M239.4 59.1h0M82.2 308.0h0M191.3 275.6h0M223.4 168.4h0M213.8 195.2h0M71.4 306.5h0M220.4 189.7h0M125.4 288.3h0M78.9 338.0h0M182.2 284.1h0M156.6 110.3h0M209.0 89.9h0M99.0 154.8h0M154.3 102.5h0M247.0 65.6h0M217.3 165.1h0M169.7 202.5h0M164.6 80.7h0M159.0 187.5h0M219.5 104.7h0M120.7 120.7h0M234.8 90.7h0M174.3 180.8h0M93.5 203.4h0M133.8 281.0h0M153.8 96.2h0M236.2 212.0h0M100.9 297.3h0M215.3 156.1h0M241.2 76.7h0M232.2 213.9h0M133.4 100.1h0M162.7 296.0h0M217.7 252.9h0M236.4 39.4h0M120.2 117.4h0M195.8 145.3h0M226.9 116.0h0M100.5 160.5h0M199.4 150.7h0M205.2 266.6h0M75.7 232.4h0M97.7 116.1h0M51.4 156.0h0M189.9 155.9h0M122.8 275.7h0M239.8 136.7h0M212.5 221.6h0M59.5 324.5h0M181.5 115.7h0M185.3 209.4h0M205.0 153.7h0M188.9 170.2h0M235.2 234.6h0M48.7 197.7h0M59.1 157.8h0M112.9 159.8h0M89.5 317.8h0M164.8 100.4h0M198.1 164.2h0" stroke="#ffe6e6" stroke-width="3" stroke-opacity="0.6"/><path d="M228.6 189.3h0M207.1 233.9h0M150.2 288.7h0M238.0 144.3h0M95.2 181.3h0M117.7 175.3h0M211.8 255.3h0M188.7 284.2h0M143.0 236.0h0M193.8 171.2h0M89.8 107.7h0M60.5 141.8h0M112.9 204.5h0M127.4 153.5h0M190.8 190.6h0M127.2 111.7h0M88.5 136.0h0M73.8 328.7h0M100.2 178.8h0M229.8 68.6h0M191.8 267.0h0M181.6 257.9h0M244.6 150.4h0M97.3 134.8h0M183.6 141.2h0M76.6 342.7h0M248.5 58.9h0M118.9 144.1h0M207.5 128.1h0M77.4 152.6h0M224.8 126.8h0M183.0 201.2h0M194.5 203.7h0M237.0 43.4h0M182.1 154.4h0M94.8 295.0h0M174.8 289.2h0M103.9 158.1h0M236.1 72.3h0M232.6 219.5h0M64.0 191.8h0M251.8 195.0h0M238.9 219.2h0M156.5 275.0h0M110.4 149.0h0M45.4 202.3h0M229.5 127.3h0M213.8 172.8h0M235.2 140.3h0M98.0 155.1h0M221.0 165.2h0M81.3 191.0h0M215.1 120.1h0M185.3 157.7h0M192.5 195.4h0M98.5 300.5h0M203.2 78.4h0M200.6 169.3h0M71.0 115.5h0M110.0 168.0h0M63.0 333.5h0M64.7 242.8h0M206.7 98.5h0M230.6 46.2h0M121.8 300.6h0M42.5 237.5h0M144.1 112.8h0M243.2 186.9h0M100.2 111.3h0M115.8 198.2h0M228.5 173.0h0M91.8 114.8h0M96.7 188.9h0M177.6 89.2h0M90.6 152.5h0M134.3 311.1h0M229.0 72.6h0M77.1 332.8h0M120.1 314.2h0M240.5 140.4h0M178.8 170.5h0M227.9 62.3h0" stroke="#ffe6e6" stroke-width="3" stroke-opacity="0.8"/><path d="M193.1 246.7h0M93.6 225.1h0M102.0 304.1h0M59.4 290.6h0M57.6 295.9h0M151.8 226.1h0M145.2 260.0h0M181.7 215.2h0M87.3 282.0h0M191.0 239.5h0M181.0 137.8h0M156.0 239.9h0M190.7 274.7h0M65.0 327.6h0M182.5 131.3h0M84.1 330.6h0M142.3 162.5h0M136.2 159.9h0M156.1 234.8h0M182.1 166.4h0M191.5 243.9h0M175.4 138.1h0M201.8 224.6h0M165.1 174.6h0M183.8 97.4h0M151.8 178.5h0M124.2 296.5h0M80.9 229.7h0M77.7 138.7h0M168.0 154.2h0M153.1 235.2h0M162.7 118.9h0M208.3 260.8h0M108.2 260.7h0M78.9 255.2h0M249.0 98.1h0M82.7 257.1h0M157.5 243.5h0M113.0 151.6h0M90.4 233.5h0M97.4 112.2h0M124.4 234.8h0M135.1 147.1h0M184.2 246.9h0M188.6 103.3h0M127.0 303.4h0M101.6 244.2h0M219.4 197.6h0M204.8 143.3h0M177.5 114.2h0M46.3 171.6h0M73.4 122.3h0M110.4 215.6h0M55.8 220.7h0M217.8 44.8h0M158.8 204.7h0M154.7 162.5h0M205.5 252.2h0M169.1 285.5h0M186.4 224.1h0M108.3 292.7h0M135.0 265.2h0M177.5 264.6h0M58.0 226.3h0M127.6 289.9h0M73.7 302.9h0M185.7 118.0h0M151.2 106.9h0M129.7 184.1h0M223.3 261.3h0M162.6 269.0h0M174.9 105.3h0M72.3 310.9h0M88.1 324.6h0M81.7 234.2h0M81.2 249.8h0M190.9 137.4h0M142.4 239.8h0M136.5 238.7h0M131.1 285.6h0M171.3 241.5h0M164.2 137.5h0" stroke="#e6e6ff" stroke-width="3" stroke-opacity="0.8"/><path d="M125.7 112.2h0M143.0 109.5h0M123.6 117.4h0M240.2 163.1h0M111.0 114.8h0M67.9 201.7h0M89.3 154.8h0M122.0 112.6h0M66.0 217.1h0M208.2 110.6h0M202.8 110.5h0M198.6 88.0h0M121.0 94.2h0M220.5 87.8h0M241.8 159.3h0M97.4 215.8h0M161.2 284.3h0M110.4 268.4h0M166.0 72.5h0M75.6 267.3h0M154.6 188.8h0M132.1 169.1h0M241.1 59.3h0M194.9 153.7h0M46.3 197.5h0M226.4 185.0h0M201.4 174.4h0M218.9 183.3h0M90.1 105.7h0M69.1 275.0h0M231.6 117.3h0M197.0 173.9h0M88.5 116.3h0" stroke="#ffe6e6" stroke-width="3" stroke-opacity="0.5"/><path d="M45.0 134.7h0M60.9 247.4h0M163.8 260.7h0M83.5 272.3h0M134.7 184.4h0M156.9 125.5h0M157.4 172.6h0M75.6 322.5h0M95.6 257.9h0M131.6 117.7h0M48.7 286.6h0M60.2 163.0h0M50.3 247.8h0M192.6 99.7h0M131.2 283.6h0M52.5 273.1h0M142.8 136.5h0M52.4 232.3h0M170.2 148.1h0M141.1 123.3h0M179.3 107.5h0M142.7 246.7h0M110.7 240.4h0M213.3 48.4h0M175.5 173.1h0M154.7 107.7h0M80.8 333.1h0M83.5 320.3h0M126.3 229.8h0M145.1 155.0h0M45.6 278.3h0M82.9 207.5h0M200.2 250.7h0M72.8 262.2h0M65.4 140.2h0M144.5 131.8h0M226.6 36.9h0M122.2 306.6h0M204.6 206.0h0M84.6 275.8h0M170.9 219.6h0M158.2 233.8h0M171.9 102.7h0M225.0 42.8h0M159.5 204.5h0M132.6 183.6h0M46.7 282.9h0M57.0 253.1h0M40.3 164.6h0M225.9 168.6h0M103.4 244.3h0M135.5 99.6h0M145.4 213.1h0M65.6 308.3h0M124.5 201.1h0M191.7 56.4h0M127.1 267.7h0M183.8 217.7h0M71.2 309.9h0M144.8 300.4h0M144.3 133.2h0M141.0 167.6h0M174.0 222.9h0M176.9 133.1h0M184.5 101.3h0M92.4 120.9h0M196.1 118.5h0M163.0 130.8h0M153.5 146.3h0M244.5 158.9h0M146.0 280.0h0M149.4 180.6h0M80.2 279.5h0" stroke="#e6e6ff" stroke-width="3" stroke-opacity="0.9"/><path d="M47.3 199.1h0M146.8 190.4h0M119.7 318.9h0M217.5 35.7h0M135.7 193.0h0M109.3 146.8h0M112.3 237.7h0M205.7 193.0h0M177.0 219.8h0M137.4 127.9h0M51.9 311.5h0M207.4 41.2h0M121.5 250.2h0M89.9 183.5h0M79.1 246.0h0M72.0 251.2h0M59.3 283.4h0M54.8 144.2h0M201.5 241.0h0M158.7 123.9h0M140.9 152.7h0M126.4 213.4h0M62.7 149.1h0M158.1 127.9h0M66.8 252.3h0M211.9 115.8h0M141.4 176.4h0M169.0 217.7h0M81.4 284.0h0M179.5 137.6h0M127.3 226.4h0M153.9 138.4h0M135.7 155.7h0M197.2 215.9h0M95.3 113.9h0M161.8 165.5h0M129.2 311.4h0M157.6 238.7h0" stroke="#e6e6ff" stroke-width="3" stroke-opacity="0.5"/><path d="M184.5 119.2h0M203.8 176.7h0M111.1 161.9h0M217.0 254.6h0M63.6 336.0h0M104.2 124.9h0M181.7 181.0h0M202.8 264.0h0M199.8 181.0h0M179.0 160.8h0M180.8 276.5h0M73.0 124.9h0M191.7 154.8h0M193.6 118.0h0M215.3 90.6h0M96.3 168.0h0M108.3 320.9h0M75.3 216.6h0M204.8 106.1h0M174.7 78.4h0M166.2 198.7h0M115.5 143.7h0M206.0 96.1h0M99.6 281.7h0M146.4 299.8h0M53.7 301.0h0M165.0 290.8h0M230.8 76.8h0M46.7 208.8h0M67.9 192.3h0M163.1 294.8h0M168.8 96.1h0M116.9 287.9h0M186.8 258.1h0M101.2 328.8h0" stroke="#ffe6e6" stroke-width="3"/><path d="M92.3 175.2h0M50.5 169.8h0M177.9 81.2h0M181.4 92.3h0M174.5 82.4h0M81.8 197.3h0M112.4 237.9h0M219.6 170.9h0M75.2 234.4h0M134.3 151.6h0M208.0 153.2h0M123.6 268.4h0M122.9 124.2h0M230.8 105.9h0M236.6 104.2h0M246.7 74.1h0M214.6 62.2h0M207.9 180.7h0M207.7 217.6h0M252.2 43.3h0M128.3 107.5h0M203.0 75.1h0M232.9 237.6h0M83.6 338.1h0M163.8 196.6h0M227.6 189.9h0M180.6 165.0h0M120.8 279.2h0M76.4 179.3h0M166.3 294.5h0M69.8 172.0h0M211.6 58.4h0M182.6 125.1h0M134.6 89.2h0M106.1 205.0h0M104.7 283.6h0M108.3 159.4h0M250.9 80.7h0M227.0 190.2h0M205.3 80.6h0M230.4 39.3h0M237.3 94.4h0M252.7 114.0h0M93.8 268.9h0M247.8 162.4h0M181.4 188.4h0M250.4 235.6h0M203.1 102.0h0M133.4 309.0h0M167.7 200.7h0M198.8 161.5h0M238.2 202.4h0M219.3 257.3h0M79.1 282.9h0M173.1 97.9h0M195.3 85.1h0M242.4 79.6h0M216.6 141.5h0M216.4 97.2h0M246.6 118.9h0M220.5 79.1h0M199.5 76.2h0M226.7 72.1h0M205.8 182.9h0M146.2 112.8h0M118.9 294.7h0M63.4 139.3h0M217.8 117.9h0M240.1 198.6h0M135.5 113.4h0M88.6 179.4h0" stroke="#ffd9d9" stroke-width="3" stroke-opacity="0.6"/><path d="M95.2 331.9h0M119.0 195.7h0M186.8 71.7h0M197.5 174.3h0M49.9 210.6h0M190.5 227.3h0M162.6 91.2h0M91.2 119.6h0M165.9 281.5h0M247.9 229.6h0M220.0 84.6h0M191.8 51.6h0M62.3 124.0h0M217.2 187.6h0M216.9 65.0h0M187.3 202.5h0M239.1 220.6h0M116.7 297.8h0M224.6 224.6h0M186.8 71.4h0M154.2 90.3h0M174.6 156.5h0M162.9 82.0h0M204.3 175.4h0M132.6 219.8h0M62.7 338.1h0M181.2 239.8h0M237.4 86.5h0" stroke="#ffd9d9" stroke-width="3" stroke-opacity="0.5"/><path d="M134.1 101.2h0M246.3 111.7h0M64.3 182.3h0M100.2 304.1h0M226.5 239.9h0M112.8 108.1h0M74.8 329.5h0M120.8 176.2h0M218.8 87.3h0M109.8 148.2h0M216.1 157.8h0M188.2 160.8h0M241.1 230.9h0M68.6 232.1h0M53.6 210.3h0M248.8 75.8h0M93.3 108.5h0M175.4 199.8h0M76.5 292.4h0M217.3 49.0h0M242.2 208.2h0M248.5 188.4h0M186.9 278.8h0M223.1 56.7h0M216.8 167.2h0M241.5 77.8h0M190.6 81.5h0M241.7 194.9h0M222.5 162.0h0M203.3 223.5h0M75.7 153.3h0M208.3 164.6h0M156.8 272.2h0M240.5 140.9h0M192.7 77.1h0M238.0 146.4h0M215.3 176.8h0M105.1 322.3h0M120.1 188.6h0M101.4 165.3h0M109.3 276.7h0M61.5 324.2h0M186.2 57.1h0M130.0 104.7h0M107.9 280.5h0M222.5 212.3h0M233.8 69.6h0M88.8 179.1h0M93.3 122.5h0M212.7 141.8h0M222.4 233.9h0M237.1 226.5h0M220.2 240.6h0M75.4 342.3h0M224.0 221.9h0M175.8 152.9h0M220.1 126.7h0M242.8 191.4h0M113.6 153.1h0M209.3 218.5h0M178.7 159.3h0M224.5 95.6h0M92.9 334.3h0M210.1 227.1h0M66.1 171.0h0M116.4 281.1h0M230.3 109.6h0M192.6 152.4h0M235.4 123.4h0" stroke="#ffd9d9" stroke-width="3" stroke-opacity="0.7"/><path d="M231.7 253.4h0M202.1 224.0h0M159.1 291.9h0M191.1 166.6h0M186.2 278.9h0M182.8 284.3h0M200.4 257.3h0M167.5 224.5h0M179.6 172.8h0M160.2 234.7h0M146.3 232.5h0M107.1 221.2h0M153.6 172.9h0M141.5 172.3h0M49.3 140.8h0M168.3 98.5h0M43.1 168.9h0M80.0 284.6h0M140.2 267.7h0M155.2 241.3h0M203.2 260.0h0M208.2 45.9h0M148.3 148.0h0M209.7 205.3h0M44.0 276.7h0M45.2 323.7h0M139.7 126.8h0M167.3 266.9h0M105.3 311.7h0M84.0 112.5h0M170.1 276.1h0M84.2 225.8h0M114.0 262.7h0M98.5 326.7h0M84.2 305.1h0M76.6 327.6h0M152.1 144.6h0M128.4 297.9h0M208.2 187.3h0M51.9 272.9h0M218.7 151.3h0M76.0 234.2h0M87.5 324.8h0M98.4 265.1h0M56.6 152.6h0M153.2 264.0h0M167.1 160.2h0M146.4 209.4h0M131.3 162.1h0M72.2 296.5h0M73.0 160.4h0M203.8 259.4h0M131.8 286.8h0M58.0 291.6h0M74.1 310.5h0M140.1 254.3h0M118.4 175.6h0M124.3 213.1h0M56.4 278.0h0M151.4 262.9h0M183.0 103.2h0M125.2 135.7h0M236.1 258.9h0M155.8 258.6h0M117.1 232.3h0M94.6 294.0h0M83.9 319.5h0M118.8 217.3h0M159.5 276.9h0M82.3 305.5h0M180.1 251.9h0M86.2 244.3h0M118.6 288.6h0M186.9 265.6h0M154.4 232.1h0M184.5 135.3h0M45.0 186.7h0M156.5 246.5h0M173.1 105.8h0M178.1 274.6h0M134.2 278.1h0M207.2 146.1h0M124.0 242.7h0M181.3 272.1h0M139.8 222.7h0M159.3 166.3h0M184.5 97.6h0M126.4 206.3h0M151.0 263.1h0M108.1 229.2h0M116.0 209.9h0M135.6 207.3h0M246.5 111.8h0M197.1 64.1h0M111.6 112.7h0M167.6 201.9h0M159.6 299.7h0M101.5 251.1h0M202.5 258.7h0M155.5 145.0h0" stroke="#d9d9ff" stroke-width="3" stroke-opacity="0.7"/><path d="M199.2 55.8h0M108.6 274.9h0M234.0 192.8h0M95.7 300.3h0M204.9 161.4h0M63.8 303.4h0M196.0 85.9h0M101.9 320.1h0M183.4 257.3h0M232.9 105.1h0M116.0 99.2h0M222.9 236.7h0M145.8 95.1h0M104.7 268.8h0M68.9 226.4h0M116.7 321.3h0M231.4 156.0h0M97.1 143.0h0M114.5 256.3h0M205.8 67.2h0M104.2 130.4h0M137.6 144.3h0M78.6 167.8h0M95.4 332.7h0M197.3 180.3h0M57.5 239.7h0M199.3 215.5h0M168.3 151.9h0M203.8 182.9h0M239.2 55.9h0M235.2 138.9h0M99.8 158.1h0M121.5 215.1h0M212.5 157.7h0M109.4 133.7h0M238.1 170.6h0M220.9 119.7h0M61.6 134.9h0M214.7 54.1h0M199.0 171.1h0M131.3 111.0h0M128.8 274.2h0M154.6 87.2h0M181.5 76.9h0M219.8 232.5h0M242.1 73.6h0M219.2 161.6h0M127.5 265.4h0M206.8 147.2h0M242.0 142.6h0M233.2 178.7h0M103.9 268.4h0M243.5 140.1h0M179.2 167.8h0M223.4 172.4h0M113.0 267.7h0M251.5 58.4h0M222.8 104.3h0M64.3 213.6h0M172.1 95.0h0M220.1 241.7h0M233.2 107.1h0M196.9 56.4h0M243.0 238.6h0M251.1 51.0h0M126.3 95.0h0M242.8 191.6h0M55.2 145.1h0M244.1 113.0h0M189.7 62.1h0M239.2 134.0h0M189.2 143.9h0M200.6 84.3h0M226.9 194.8h0" stroke="#ffd9d9" stroke-width="3" stroke-opacity="0.9"/><path d="M164.4 175.7h0M200.9 259.3h0M165.0 106.2h0M173.1 107.2h0M108.5 225.3h0M180.4 289.1h0M144.2 277.4h0M69.2 326.4h0M113.6 184.9h0M236.3 205.3h0M164.2 153.3h0M189.6 254.6h0M183.5 97.8h0M156.4 153.0h0M153.6 140.4h0M55.9 296.8h0M74.5 253.6h0M188.4 253.1h0M152.8 140.9h0M162.8 119.6h0M166.2 117.2h0M156.4 147.6h0M88.3 297.2h0M84.4 166.3h0M101.9 228.1h0M74.3 254.5h0M140.0 238.7h0M141.9 234.4h0M73.4 122.4h0M64.3 307.0h0M117.7 252.4h0M78.6 297.5h0M154.4 206.6h0M113.6 252.1h0M66.7 129.0h0M126.2 149.1h0M140.7 189.3h0M74.9 322.1h0M183.6 109.5h0M148.8 260.2h0M71.3 328.3h0M63.3 206.6h0M86.0 283.1h0M79.5 315.5h0M144.3 268.7h0M63.9 151.4h0M50.5 308.5h0M158.7 157.0h0M106.5 194.6h0M162.0 250.6h0M60.9 129.5h0M64.2 261.6h0M98.3 260.6h0M152.5 226.3h0M109.4 261.2h0M165.6 87.4h0M155.4 151.6h0M162.9 145.7h0M131.9 247.5h0M151.1 130.6h0M149.4 280.7h0M201.9 248.1h0M142.4 168.2h0M56.7 136.6h0M179.7 231.9h0M40.9 229.2h0M50.5 237.9h0M52.7 159.3h0M49.3 271.1h0M210.3 213.3h0M155.8 216.8h0M67.3 306.1h0M58.5 231.9h0M68.9 341.0h0" stroke="#d9d9ff" stroke-width="3" stroke-opacity="0.8"/><path d="M128.4 264.2h0M140.5 162.3h0M72.6 253.2h0M118.4 155.3h0M200.4 133.9h0M196.6 280.1h0M58.4 281.3h0M151.7 183.1h0M182.7 257.2h0M86.8 325.2h0M148.2 241.1h0M168.5 112.9h0M147.7 104.0h0M45.2 223.6h0M202.4 103.6h0M61.1 309.1h0M84.0 310.3h0M163.7 125.7h0M117.3 240.8h0M172.2 102.7h0M168.7 229.6h0M81.4 300.1h0M133.9 285.5h0M59.7 260.6h0M133.3 115.9h0M169.7 131.3h0M183.8 231.9h0M51.8 281.1h0M110.2 239.9h0M183.6 272.5h0M200.5 127.7h0M71.0 283.0h0M173.1 261.0h0M159.4 169.7h0M243.6 251.7h0M186.5 212.3h0M80.6 287.7h0M173.4 260.8h0M74.9 299.0h0M180.9 279.4h0M187.2 107.9h0M177.4 254.0h0M131.4 294.3h0M73.6 325.8h0M71.1 314.5h0M113.6 216.2h0M105.2 274.0h0M157.0 141.2h0M93.2 286.1h0M48.1 283.7h0M149.1 119.6h0M64.7 291.4h0M155.1 293.2h0M98.4 282.3h0M80.8 310.7h0M208.1 136.1h0M82.6 267.1h0M66.3 300.6h0M143.5 194.0h0M100.5 106.0h0M201.1 209.4h0M176.7 276.6h0M206.8 210.5h0M66.7 151.0h0M191.0 123.1h0M152.9 233.1h0M153.5 229.8h0M110.6 249.5h0M247.0 251.1h0M149.3 135.7h0M127.1 205.6h0M153.9 285.6h0M110.7 289.8h0M60.9 263.3h0M163.4 155.7h0M127.0 297.6h0M111.2 260.5h0M50.1 255.4h0M69.6 256.0h0M194.1 110.5h0M173.2 264.3h0M77.8 284.5h0M127.0 257.7h0M213.2 32.1h0M94.4 243.6h0M193.6 150.0h0M149.3 139.1h0M160.9 136.8h0M109.3 124.7h0M198.8 195.9h0M118.8 111.4h0M157.6 286.3h0M93.2 110.8h0" stroke="#d9d9ff" stroke-width="3" stroke-opacity="0.9"/><path d="M49.7 277.0h0M218.8 72.9h0M146.0 116.2h0M134.2 142.2h0M100.7 314.7h0M121.9 294.4h0M50.7 269.5h0M101.5 250.5h0M83.9 314.8h0M165.9 258.7h0M125.1 273.5h0M155.4 209.3h0M156.4 270.6h0M136.6 257.6h0M177.8 134.9h0M154.9 250.0h0M183.5 236.7h0M167.9 242.0h0M183.2 95.8h0M188.5 110.8h0M134.1 255.9h0M211.3 203.3h0M215.9 48.6h0M176.8 117.4h0M147.9 287.3h0M163.5 219.6h0M131.5 174.8h0M112.1 297.1h0M137.0 153.5h0M63.7 246.2h0M187.1 219.9h0M156.2 209.6h0M144.4 205.1h0M74.9 337.5h0M162.2 218.9h0M141.2 206.7h0M55.2 173.9h0M105.8 325.1h0M71.3 159.6h0M181.7 115.1h0M78.3 323.2h0M68.6 292.0h0M88.6 121.3h0M122.7 239.6h0M149.4 264.0h0M131.4 216.9h0M57.0 287.0h0M150.8 164.5h0M245.7 165.2h0M129.1 232.4h0M65.8 330.7h0M95.0 293.8h0M40.0 133.2h0M183.1 237.0h0M158.7 248.5h0M110.9 231.5h0M208.6 205.5h0M71.4 225.4h0M92.2 150.9h0M110.4 231.1h0M200.7 110.1h0M190.9 53.7h0M89.3 234.2h0M130.4 281.5h0M153.4 174.2h0M92.0 297.8h0M95.7 293.0h0M158.7 131.0h0M165.6 142.7h0M70.3 325.0h0M193.5 237.9h0M42.9 297.2h0M181.8 133.0h0M236.0 109.0h0M70.7 294.9h0" stroke="#d9d9ff" stroke-width="3" stroke-opacity="0.6"/><path d="M100.9 287.8h0M182.4 119.3h0M164.6 237.2h0M71.4 313.1h0M106.6 135.2h0M194.8 158.2h0M69.1 267.8h0M140.7 196.4h0M116.2 250.6h0M67.2 191.4h0M95.2 248.8h0M210.2 210.5h0M54.5 314.9h0M177.3 217.8h0M113.7 229.6h0M188.7 236.9h0M182.5 233.4h0M228.3 172.2h0M87.3 300.3h0M163.0 151.0h0M112.3 277.6h0M142.2 278.7h0M61.3 268.5h0M57.3 217.5h0M72.1 294.4h0M124.8 110.6h0M222.2 75.9h0M148.6 290.7h0M194.4 209.7h0M66.4 280.5h0M71.1 273.2h0M192.2 133.4h0M175.6 243.6h0M63.0 310.7h0M210.4 261.4h0M64.6 273.6h0M156.0 111.0h0M198.8 218.1h0M68.9 255.0h0M182.5 116.3h0M205.6 135.1h0M98.0 270.6h0M68.4 316.5h0" stroke="#d9d9ff" stroke-width="3" stroke-opacity="0.5"/><path d="M192.2 85.0h0M191.9 151.6h0M222.4 114.4h0M222.5 212.9h0M148.5 265.9h0M87.9 173.9h0M232.9 162.3h0M102.2 190.1h0M128.1 113.6h0M251.0 45.3h0M113.1 279.7h0M177.2 193.2h0M70.2 152.3h0M173.6 284.3h0M213.0 170.2h0M225.2 225.0h0M201.2 160.9h0M244.3 69.4h0M93.0 191.9h0M200.8 149.4h0M139.1 184.7h0M186.5 76.0h0M202.6 49.7h0" stroke="#ffd9d9" stroke-width="3"/><path d="M189.7 156.3h0M133.8 111.2h0M176.0 189.6h0M243.0 100.2h0M240.3 74.7h0M188.8 263.2h0M219.4 148.7h0M240.2 74.0h0M66.9 196.4h0M127.5 155.1h0M132.7 99.0h0M249.9 37.1h0M146.1 84.3h0M103.8 297.1h0M159.9 74.8h0M173.6 184.3h0M43.4 232.1h0M124.7 88.7h0M205.7 96.1h0M247.9 129.1h0M52.0 247.5h0M100.8 288.0h0M226.7 97.3h0M58.8 186.5h0M120.0 113.7h0M220.7 48.6h0M186.4 67.5h0M207.4 246.9h0M62.7 205.4h0M220.3 166.6h0M98.2 113.4h0M123.6 294.9h0M202.0 266.1h0M189.6 79.9h0M246.5 239.2h0M81.4 166.3h0M119.3 271.6h0M182.4 254.9h0M224.4 259.5h0M79.2 172.5h0M241.6 83.4h0M202.3 96.0h0M195.8 162.8h0M121.9 180.4h0M180.4 287.9h0M161.0 89.6h0M86.0 199.6h0M164.9 101.6h0M108.2 168.5h0M173.1 194.5h0M194.0 152.1h0M111.5 324.3h0M51.2 239.0h0M93.9 131.0h0M88.8 158.8h0M208.2 154.1h0M228.4 73.9h0M188.2 184.4h0M236.8 60.0h0M49.9 219.3h0M99.6 296.2h0M220.7 221.6h0M190.7 59.4h0" stroke="#ffd9d9" stroke-width="3" stroke-opacity="0.8"/><path d="M203.4 137.7h0M71.3 161.6h0M174.2 138.1h0M152.3 236.3h0M43.4 139.6h0M153.2 85.7h0M189.7 230.2h0M188.2 99.8h0M165.3 184.0h0M170.5 260.4h0M154.8 258.9h0M134.5 300.1h0M157.9 135.4h0M142.6 190.3h0M61.0 136.7h0M60.8 263.9h0M63.1 328.2h0M164.4 243.4h0M102.0 239.6h0M142.2 284.9h0M60.9 270.0h0M173.9 121.9h0M67.0 248.5h0M131.3 239.0h0M171.3 255.6h0M197.5 124.0h0" stroke="#d9d9ff" stroke-width="3"/><path d="M116.3 230.3h0M193.0 135.9h0M138.5 203.1h0M146.8 184.1h0M75.3 323.6h0M179.2 217.4h0M132.0 222.4h0M171.8 116.2h0M130.9 209.7h0M175.7 113.3h0M93.0 296.1h0M77.6 254.1h0M189.1 139.2h0M171.4 137.4h0M176.8 133.6h0M86.9 255.7h0M187.5 111.1h0M201.7 198.5h0M178.3 234.7h0M151.9 207.1h0M158.7 193.3h0M142.3 272.2h0M130.4 215.0h0M150.6 194.1h0M67.6 257.4h0M168.8 106.8h0" stroke="#ccccff" stroke-width="3"/><path d="M137.7 251.6h0M42.5 319.0h0M157.0 154.5h0M174.7 291.4h0M141.0 176.4h0M159.8 174.7h0M144.9 207.8h0M193.1 154.1h0M164.6 206.0h0M145.6 276.4h0M224.9 49.6h0M64.4 134.1h0M131.1 117.3h0M164.7 149.1h0M122.3 299.6h0M165.5 251.8h0M122.5 218.8h0M159.3 127.5h0M162.6 136.7h0M103.0 230.0h0M96.3 209.4h0M64.7 244.7h0M190.9 108.0h0M85.6 273.5h0M124.8 194.7h0M54.5 296.4h0M232.3 203.5h0M143.4 149.4h0M221.4 153.0h0M200.2 208.8h0M149.9 128.6h0M47.4 163.5h0M86.2 241.2h0M149.1 223.3h0M149.5 197.8h0M82.7 274.2h0M44.5 243.2h0M174.8 142.3h0M212.8 112.2h0M160.8 238.7h0M193.0 136.9h0M192.4 113.0h0M159.6 130.2h0M188.3 186.6h0M91.3 200.1h0M127.1 221.2h0M165.3 139.5h0M134.5 240.0h0M72.2 308.5h0M145.4 224.7h0M157.0 204.8h0M91.9 291.5h0M191.1 134.9h0M192.4 187.5h0M237.5 46.6h0M88.2 243.8h0M196.3 169.1h0M81.8 267.1h0M61.3 269.7h0M182.2 129.3h0M165.3 115.7h0M173.5 258.8h0M124.7 219.4h0M158.4 178.5h0M106.7 222.5h0M148.9 189.1h0M213.3 201.6h0M139.3 248.0h0" stroke="#ccccff" stroke-width="3" stroke-opacity="0.7"/><path d="M66.0 288.7h0M49.1 260.8h0M221.8 122.2h0M191.6 129.4h0M206.3 206.9h0M145.4 172.6h0M80.7 325.1h0M90.7 260.6h0M126.6 220.3h0M162.3 127.0h0M59.2 279.7h0M172.8 158.3h0M89.3 303.8h0M148.3 242.2h0M144.3 242.0h0M146.4 175.6h0M166.2 220.3h0M185.1 160.6h0M151.8 255.5h0M66.9 278.0h0M222.4 217.0h0M166.9 148.0h0M107.7 248.4h0M156.8 164.9h0M112.4 245.0h0M70.0 310.2h0M84.1 250.3h0M155.9 222.0h0M168.3 251.5h0M61.4 320.4h0M56.7 302.3h0M218.9 141.0h0M158.9 222.4h0M176.8 288.0h0M95.6 257.6h0M62.2 302.6h0M178.2 222.3h0M173.3 158.4h0M160.3 256.2h0M158.0 151.1h0M146.7 196.6h0M192.4 107.7h0M163.5 245.8h0M169.9 213.9h0M134.1 181.8h0M112.5 149.2h0M157.5 261.9h0M174.6 102.4h0M173.2 283.8h0M157.9 239.1h0M239.3 219.9h0" stroke="#ccccff" stroke-width="3" stroke-opacity="0.8"/><path d="M203.8 269.6h0M138.4 217.6h0M60.1 271.6h0M55.1 248.1h0M156.1 195.2h0M143.9 212.4h0M184.2 133.5h0M163.2 228.8h0M151.5 210.7h0M59.5 287.1h0M207.5 257.9h0M168.7 258.6h0M123.8 256.4h0M75.6 254.2h0M145.4 197.9h0M98.9 246.9h0M130.7 218.0h0M137.1 272.6h0M112.5 148.1h0M56.9 258.7h0M150.9 171.5h0M167.9 218.9h0M181.6 111.4h0M137.1 206.4h0M144.4 166.4h0M143.3 167.9h0M156.4 240.3h0M165.6 82.6h0M114.0 239.7h0M174.0 107.6h0M129.8 210.8h0" stroke="#ccccff" stroke-width="3" stroke-opacity="0.5"/><path d="M184.2 231.1h0M241.8 138.2h0M236.9 187.5h0M122.5 105.8h0M150.5 85.1h0M124.1 109.5h0M243.9 121.9h0M81.8 166.0h0M97.4 164.6h0M200.4 180.6h0M195.1 84.0h0M205.8 154.6h0M78.4 163.4h0M231.7 70.3h0M209.7 153.1h0M162.4 76.2h0M244.5 78.9h0M223.9 180.1h0M208.3 163.0h0M242.4 193.1h0" stroke="#ffcccc" stroke-width="3" stroke-opacity="0.6"/><path d="M187.6 220.3h0M234.7 35.6h0M141.2 267.0h0M138.3 217.9h0M167.7 116.2h0M85.0 245.8h0M50.1 318.2h0M143.4 207.7h0M72.5 324.5h0M78.9 252.8h0M217.8 80.4h0M165.9 260.0h0M233.3 222.3h0M65.7 242.2h0M148.4 280.0h0M148.8 157.4h0M152.4 244.3h0M141.9 199.8h0M45.1 164.9h0M83.3 128.8h0M222.0 44.9h0M58.6 292.6h0M146.7 195.6h0M59.2 242.1h0M88.1 155.8h0M201.1 132.0h0M186.5 110.4h0M87.3 231.7h0M65.4 262.6h0M182.1 242.7h0M80.5 267.4h0M112.6 252.5h0M58.0 253.1h0M47.0 265.9h0M144.1 249.8h0M73.4 322.0h0M172.4 213.8h0M201.3 134.6h0M133.1 222.3h0M78.6 272.8h0M135.1 249.2h0M169.2 288.7h0M193.1 261.4h0M185.7 233.5h0M71.9 244.2h0M130.7 216.3h0M179.0 135.2h0" stroke="#ccccff" stroke-width="3" stroke-opacity="0.9"/><path d="M217.8 184.0h0M179.1 168.4h0M114.6 123.3h0M214.2 153.6h0M246.0 63.6h0M239.0 52.3h0M224.8 157.3h0M228.2 175.8h0M196.8 169.6h0M200.3 150.1h0M73.7 317.4h0M105.3 163.7h0M234.9 238.9h0" stroke="#ffcccc" stroke-width="3" stroke-opacity="0.5"/><path d="M232.3 124.1h0M234.3 243.2h0M224.9 190.9h0M114.5 270.2h0M194.5 87.6h0M190.9 176.9h0M180.7 116.7h0M227.9 225.5h0M189.5 126.6h0M193.1 160.3h0M101.6 173.4h0M224.7 178.1h0M200.2 83.8h0M213.4 230.9h0M75.8 295.9h0M220.5 87.0h0M217.2 155.0h0M250.0 235.4h0M216.3 63.8h0M201.2 167.6h0M229.4 220.6h0M225.4 117.3h0M117.5 157.8h0" stroke="#ffcccc" stroke-width="3" stroke-opacity="0.8"/><path d="M209.1 153.0h0M200.1 154.4h0M100.7 142.8h0M220.7 194.1h0M120.2 166.0h0M166.6 78.9h0M197.0 176.2h0M188.3 176.7h0M201.3 153.0h0M236.9 73.0h0M239.6 139.3h0M234.9 134.3h0M127.5 103.9h0M227.0 68.4h0M238.7 71.5h0M244.2 121.5h0M221.6 80.1h0M153.4 90.5h0M248.7 143.2h0M202.8 168.4h0M189.3 174.2h0M177.4 84.0h0M241.2 112.2h0M237.4 62.2h0M252.7 87.9h0M193.1 84.9h0M207.0 179.5h0" stroke="#ffcccc" stroke-width="3" stroke-opacity="0.9"/><path d="M187.6 72.6h0M113.8 118.7h0M193.3 80.8h0M224.4 54.8h0M217.0 119.4h0M231.0 55.8h0M238.8 182.2h0M231.9 139.6h0M158.1 90.6h0M231.3 193.3h0M213.1 74.3h0" stroke="#ffcccc" stroke-width="3"/><path d="M142.2 269.5h0M183.0 101.1h0M160.8 258.0h0M163.2 153.2h0M45.4 246.2h0M109.1 219.8h0M95.6 263.9h0M180.2 219.0h0M47.9 256.8h0M140.7 161.0h0M83.0 314.8h0M153.1 254.9h0M54.5 322.9h0M182.4 103.6h0M45.8 168.8h0M201.3 267.3h0M129.3 180.6h0M175.8 221.2h0M109.4 236.5h0M135.7 167.7h0M57.5 158.0h0M130.8 96.8h0M180.0 126.5h0M186.6 126.9h0M139.1 164.9h0M117.5 228.3h0M203.9 125.1h0M176.5 249.9h0M159.1 233.1h0M207.8 212.4h0M252.6 98.9h0M90.4 138.3h0M76.3 287.4h0M66.6 302.5h0M68.5 327.1h0M162.0 107.1h0M62.6 322.1h0M159.3 108.4h0M80.4 325.1h0M165.9 159.7h0M136.3 227.1h0M83.4 271.5h0M64.3 327.9h0M135.4 204.2h0M78.2 327.2h0M128.1 220.7h0M162.7 222.3h0M191.2 127.6h0M55.9 285.3h0M168.8 241.7h0M113.8 254.0h0M155.7 171.5h0M146.2 226.6h0M134.7 170.7h0M161.4 204.9h0M41.7 282.1h0M66.4 254.7h0M139.4 225.3h0" stroke="#ccccff" stroke-width="3" stroke-opacity="0.6"/><path d="M186.0 171.7h0M189.4 163.6h0M247.6 191.2h0M230.0 125.3h0M235.5 116.8h0M182.1 65.4h0M224.3 235.8h0M206.5 165.2h0M165.5 119.3h0M243.4 219.6h0M195.9 171.6h0M222.8 237.3h0M233.4 182.2h0M204.0 167.4h0M203.5 169.1h0M150.4 91.9h0M114.9 170.6h0M177.6 108.9h0" stroke="#ffcccc" stroke-width="3" stroke-opacity="0.7"/><path d="M140.2 212.1h0M161.6 215.9h0M241.7 70.8h0M157.0 232.6h0M150.3 163.2h0M81.1 243.7h0M155.7 239.8h0M167.5 135.8h0M130.9 163.6h0M157.7 260.3h0M148.8 235.4h0M163.5 246.0h0M135.4 199.2h0M151.5 251.6h0M78.3 248.4h0M156.2 197.9h0M59.9 282.6h0M157.8 249.0h0M56.9 255.7h0M146.0 149.2h0M195.9 135.7h0M146.6 195.9h0M167.7 107.6h0" stroke="#bfbfff" stroke-width="3" stroke-opacity="0.8"/><path d="M148.3 136.7h0M154.9 261.8h0M149.3 221.4h0M60.9 304.7h0M46.3 254.2h0M142.8 208.5h0M81.1 273.3h0M159.4 217.5h0M89.2 251.4h0M83.4 252.5h0M175.5 100.4h0M55.7 283.1h0" stroke="#bfbfff" stroke-width="3" stroke-opacity="0.9"/><path d="M88.4 258.4h0M147.4 202.2h0M156.0 242.8h0M152.1 152.6h0M202.3 133.8h0M157.4 262.6h0M175.1 140.0h0" stroke="#bfbfff" stroke-width="3" stroke-opacity="0.5"/><path d="M138.0 199.3h0M64.7 254.1h0M51.2 304.7h0M160.9 240.6h0M180.9 116.6h0M144.2 205.8h0M143.3 211.4h0" stroke="#bfbfff" stroke-width="3" stroke-opacity="0.6"/><path d="M58.8 284.8h0M162.7 150.3h0M50.4 255.7h0M132.1 192.8h0M159.6 247.6h0M135.4 159.7h0M173.8 135.6h0M173.8 113.2h0M136.1 260.6h0M72.2 262.2h0" stroke="#bfbfff" stroke-width="3" stroke-opacity="0.7"/><path d="M168.8 233.1h0M147.8 260.1h0" stroke="#bfbfff" stroke-width="3"/><path d="M184.2 53.3h0M87.9 111.8h0M122.8 98.1h0" stroke="#ffffff" stroke-width="3.2"/><path d="M74.2 116.6h0" stroke="#ffffff" stroke-width="3.2" stroke-opacity="0.6"/><path d="M70.2 122.3h0" stroke="#ffffff" stroke-width="3.2" stroke-opacity="0.8"/><path d="M188.2 54.4h0" stroke="#fff2f2" stroke-width="3.2" stroke-opacity="0.9"/><path d="M75.0 127.4h0M59.7 301.3h0" stroke="#fff2f2" stroke-width="3.2" stroke-opacity="0.8"/><path d="M164.1 126.6h0M184.2 133.0h0M199.5 132.2h0M186.6 142.7h0M176.9 211.4h0M194.6 210.6h0M156.8 215.4h0M193.0 221.0h0M181.8 227.4h0M172.1 239.0h0M168.9 90.1h0M236.0 150.7h0M251.2 208.9h0M214.3 95.7h0M91.1 140.3h0M62.9 225.0h0M71.8 247.9h0M86.2 251.1h0M142.0 149.9h0M99.4 233.1h0M134.0 209.8h0M110.7 241.4h0M97.8 257.5h0M135.6 263.1h0M102.6 286.5h0M134.8 284.0h0M131.6 298.0h0M105.9 302.9h0M141.2 302.1h0M131.6 315.7h0" stroke="#e6e6ff" stroke-width="3.2" stroke-opacity="0.9"/><path d="M180.2 127.4h0M189.8 129.0h0M189.0 131.4h0M155.2 137.9h0M181.8 138.7h0M174.5 148.3h0M176.9 158.0h0M164.1 172.4h0M164.1 198.5h0M151.2 202.5h0M156.8 204.1h0M191.4 206.5h0M178.6 214.6h0M184.2 213.8h0M162.5 245.5h0M201.1 247.1h0M172.1 251.1h0M176.1 259.1h0M173.7 280.0h0M152.8 305.3h0M181.0 102.2h0M191.4 100.6h0M160.1 113.4h0M158.5 123.1h0M176.1 123.1h0M213.5 204.9h0M209.4 207.3h0M245.6 254.3h0M222.3 72.9h0M50.1 218.6h0M46.0 222.6h0M75.0 225.8h0M76.6 238.2h0M55.7 248.7h0M58.9 260.7h0M42.8 272.8h0M55.7 280.0h0M89.5 299.6h0M63.7 308.5h0M113.9 142.7h0M127.6 162.0h0M107.5 220.2h0M105.1 232.3h0M129.2 196.1h0M142.9 204.9h0M146.1 220.2h0M117.1 239.8h0M123.6 297.2h0M117.1 301.3h0M133.2 310.9h0M124.4 319.8h0M142.0 95.4h0M118.7 103.8h0M142.9 119.9h0" stroke="#e6e6ff" stroke-width="3.2" stroke-opacity="0.8"/><path d="M176.9 137.1h0M197.9 144.3h0M149.6 162.8h0M162.5 184.0h0M150.4 252.7h0M155.2 266.4h0M160.9 278.4h0M181.8 90.1h0M183.4 94.9h0M172.1 105.4h0M196.2 103.8h0M173.7 107.8h0M181.0 111.0h0M189.8 119.0h0M236.0 28.2h0M209.4 52.8h0M66.9 129.5h0M52.5 161.2h0M58.9 212.2h0M89.5 210.6h0M46.0 268.8h0M70.2 288.1h0M50.1 299.6h0M86.2 309.3h0M135.6 131.4h0M144.5 140.3h0M129.2 149.1h0M137.2 157.2h0M117.1 210.6h0M111.5 233.1h0M141.2 229.9h0M94.6 264.8h0M144.5 307.7h0M116.3 310.9h0" stroke="#e6e6ff" stroke-width="3.2" stroke-opacity="0.7"/><path d="M160.9 146.7h0M167.3 163.6h0M159.3 173.2h0M151.2 177.3h0M190.6 214.6h0M170.5 225.8h0M194.6 225.8h0M160.9 252.7h0M180.2 276.8h0M151.2 288.9h0M223.1 268.8h0M231.1 90.9h0M66.1 270.4h0M84.6 272.0h0M87.9 288.1h0M54.1 297.2h0M142.9 168.4h0M109.9 228.2h0M146.1 192.9h0M133.2 224.2h0M129.2 230.7h0M131.6 276.8h0M94.6 287.3h0M95.4 303.7h0M117.9 113.4h0" stroke="#e6e6ff" stroke-width="3.2"/><path d="M152.8 157.2h0M188.2 226.6h0M162.5 108.6h0M164.9 115.8h0M214.3 267.2h0M50.9 236.6h0M54.1 259.1h0M47.6 281.6h0M66.1 313.3h0M136.4 178.1h0" stroke="#e6e6ff" stroke-width="3.2" stroke-opacity="0.6"/><path d="M186.6 163.6h0M176.1 170.8h0M181.0 172.4h0M196.2 79.6h0M231.1 128.2h0M205.4 146.7h0M222.3 48.0h0M221.5 53.6h0M225.5 204.9h0M220.7 219.4h0M203.8 283.2h0M246.4 81.3h0M225.5 120.2h0M72.6 137.1h0M71.8 189.6h0M44.4 196.1h0M68.6 224.2h0M78.2 228.2h0M85.4 315.7h0M109.1 129.8h0M124.4 241.4h0" stroke="#ffe6e6" stroke-width="3.2" stroke-opacity="0.9"/><path d="M200.3 59.2h0M192.2 80.5h0M199.5 86.1h0M186.6 91.7h0M190.6 108.6h0M228.7 145.1h0M207.0 149.1h0M235.2 155.6h0M232.8 63.2h0M240.8 231.5h0M206.2 245.5h0M223.9 251.1h0M222.3 246.3h0M229.5 246.3h0M244.0 115.0h0M89.5 134.6h0M80.6 162.0h0M72.6 183.2h0M91.9 212.2h0M134.8 144.3h0M115.5 187.2h0M123.6 112.6h0" stroke="#ffe6e6" stroke-width="3.2" stroke-opacity="0.7"/><path d="M201.1 61.6h0M199.5 97.3h0M248.8 144.3h0M224.7 151.5h0M215.5 42.7h0M228.7 57.6h0M247.2 58.1h0M241.6 197.7h0M215.9 197.7h0M215.1 218.6h0M214.3 81.3h0M216.7 105.4h0M46.8 137.5h0M108.3 145.9h0M105.9 166.0h0M98.6 170.0h0M111.5 214.6h0M130.0 256.7h0M144.1 86.1h0M138.0 100.6h0M94.6 104.6h0" stroke="#ffe6e6" stroke-width="3.2" stroke-opacity="0.8"/><path d="M196.2 182.4h0M190.6 190.5h0M223.9 167.6h0M211.0 227.4h0M235.2 71.6h0M249.6 89.0h0M70.2 204.1h0M113.9 128.2h0M105.1 205.7h0M106.7 212.2h0M118.7 97.3h0M113.1 103.0h0M122.8 103.0h0M135.6 104.6h0M110.7 121.5h0" stroke="#ffe6e6" stroke-width="3.2" stroke-opacity="0.6"/><path d="M182.6 204.9h0M197.0 231.5h0M196.2 90.9h0M229.5 152.3h0M215.9 154.8h0M222.3 162.8h0M249.6 41.5h0M214.3 55.2h0M220.7 79.6h0M62.1 228.2h0M66.1 298.0h0M100.2 149.9h0M113.9 163.6h0M104.3 118.2h0" stroke="#ffe6e6" stroke-width="3.2"/><path d="M149.6 128.2h0M150.4 152.3h0M160.9 188.0h0M149.6 208.9h0M151.2 214.6h0M154.4 238.2h0M166.5 253.5h0M168.1 266.4h0M157.6 107.8h0M186.6 112.6h0M225.5 74.0h0M79.0 205.7h0M72.6 304.5h0M91.1 322.2h0M86.2 330.2h0M137.2 166.8h0M133.2 173.2h0M146.9 231.5h0M98.6 246.3h0M141.2 255.9h0M141.2 264.8h0M94.6 291.6h0" stroke="#d9d9ff" stroke-width="3.2" stroke-opacity="0.6"/><path d="M159.3 129.0h0M161.7 133.8h0M170.5 209.8h0M196.2 216.2h0M166.5 221.0h0M180.2 244.6h0M200.3 108.6h0M196.2 118.2h0M211.0 204.1h0M205.4 257.5h0M52.5 267.2h0M53.3 317.3h0M69.4 328.6h0M76.6 327.8h0M109.9 158.8h0M131.6 155.6h0M130.8 168.4h0M137.2 191.3h0M131.6 248.7h0M138.0 247.9h0M146.9 251.1h0M99.4 280.8h0M127.6 306.1h0" stroke="#d9d9ff" stroke-width="3.2"/><path d="M175.3 129.8h0M201.1 127.4h0M151.2 133.0h0M178.6 133.8h0M164.9 149.1h0M152.8 173.2h0M172.1 221.8h0M157.6 227.4h0M164.1 226.6h0M176.1 226.6h0M193.8 259.1h0M149.6 265.6h0M164.1 272.0h0M176.1 102.2h0M168.9 108.6h0M179.4 107.0h0M198.7 112.6h0M236.8 168.4h0M207.0 263.1h0M46.8 188.0h0M53.3 196.1h0M86.2 237.4h0M91.1 263.1h0M54.1 273.6h0M91.1 275.2h0M89.5 283.2h0M60.5 306.1h0M77.4 306.1h0M70.2 312.5h0M82.2 318.9h0M66.1 322.2h0M74.2 325.4h0M78.2 324.6h0M60.5 338.2h0M105.9 149.1h0M99.4 187.2h0M118.7 221.8h0M100.2 229.9h0M129.2 220.2h0M127.6 225.0h0M141.2 239.0h0M129.2 263.9h0M146.1 266.4h0M108.3 286.5h0M129.2 283.2h0M113.9 291.6h0M122.8 302.9h0M96.2 322.2h0M144.1 90.9h0" stroke="#d9d9ff" stroke-width="3.2" stroke-opacity="0.9"/><path d="M196.2 128.2h0M149.6 137.9h0M157.6 142.7h0M154.4 162.0h0M163.3 168.4h0M164.1 178.1h0M196.7 40.2h0M162.5 201.7h0M200.3 204.1h0M154.4 210.6h0M162.5 217.0h0M172.9 216.2h0M185.0 232.3h0M199.5 258.3h0M170.5 270.4h0M190.6 269.6h0M159.3 288.9h0M163.3 290.8h0M176.1 294.0h0M182.6 292.4h0M175.3 93.3h0M196.2 109.4h0M193.0 113.4h0M154.4 116.6h0M172.1 117.4h0M201.1 117.4h0M244.0 130.6h0M235.2 173.2h0M203.8 199.3h0M215.9 208.1h0M209.4 221.0h0M244.0 249.5h0M86.2 142.7h0M51.7 180.0h0M62.1 219.4h0M42.0 228.2h0M47.6 263.1h0M59.7 274.4h0M79.0 275.2h0M76.6 284.9h0M83.0 305.3h0M63.7 329.4h0M109.1 135.5h0M135.6 196.1h0M132.4 204.1h0M144.5 225.8h0M134.8 231.5h0" stroke="#d9d9ff" stroke-width="3.2" stroke-opacity="0.7"/><path d="M186.6 137.1h0M194.6 141.9h0M169.7 149.1h0M167.3 152.3h0M155.2 221.0h0M178.6 233.1h0M160.1 239.8h0M201.1 253.5h0M173.7 266.4h0M196.2 270.4h0M159.3 292.4h0M158.5 298.8h0M168.9 122.3h0M194.6 122.3h0M246.4 170.8h0M221.8 32.4h0M256.1 74.8h0M240.8 100.6h0M44.4 186.4h0M79.8 251.9h0M76.6 260.7h0M58.9 268.8h0M54.9 286.5h0M70.2 297.2h0M75.0 297.2h0M79.0 299.6h0M83.0 301.3h0M60.5 314.1h0M138.8 138.7h0M144.5 154.8h0M115.5 226.6h0M133.2 213.8h0M142.9 214.6h0M121.1 247.9h0M116.3 263.9h0M98.6 284.0h0M125.2 288.1h0M99.4 315.7h0M105.1 321.4h0" stroke="#d9d9ff" stroke-width="3.2" stroke-opacity="0.8"/><path d="M195.4 150.7h0M202.4 49.6h0M235.2 176.1h0M228.7 41.5h0M230.3 229.9h0M242.4 85.3h0M79.8 156.4h0M78.2 173.2h0M62.1 188.8h0M86.2 220.2h0M97.8 162.0h0M121.1 263.1h0M106.7 111.0h0M96.2 119.9h0" stroke="#ffd9d9" stroke-width="3.2"/><path d="M173.7 167.6h0M185.0 174.9h0M186.6 178.1h0M157.6 182.4h0M199.5 222.6h0M200.3 238.2h0M188.2 259.9h0M168.9 83.7h0M215.9 130.6h0M240.8 140.3h0M242.4 158.8h0M241.6 176.5h0M244.8 63.2h0M246.4 192.1h0M227.1 227.4h0M231.9 247.9h0M219.1 275.2h0M206.2 82.9h0M212.6 116.6h0M81.4 128.2h0M66.1 162.8h0M86.2 159.6h0M77.4 149.9h0M48.5 191.3h0M87.9 204.1h0M66.9 209.8h0M67.8 238.2h0M72.6 271.2h0M72.6 293.2h0M94.6 145.9h0M102.6 171.6h0M141.2 127.4h0M105.1 192.9h0M141.2 84.5h0M118.7 108.6h0M141.2 115.8h0" stroke="#ffd9d9" stroke-width="3.2" stroke-opacity="0.8"/><path d="M181.0 200.9h0M185.0 201.7h0M181.0 251.1h0M181.0 76.4h0M250.4 136.3h0M229.5 165.2h0M238.4 30.6h0M225.5 51.2h0M251.2 64.0h0M227.1 191.3h0M236.8 223.4h0M247.2 233.1h0M218.3 255.6h0M242.4 78.0h0M236.8 86.9h0M79.8 142.4h0M66.9 178.1h0M54.1 190.5h0M52.5 231.5h0M58.9 233.1h0M58.1 236.6h0M64.5 290.8h0M79.5 113.7h0M96.2 133.0h0M120.3 174.9h0" stroke="#ffd9d9" stroke-width="3.2" stroke-opacity="0.9"/><path d="M189.0 199.3h0M251.2 178.1h0M240.0 39.4h0M216.7 50.4h0M239.2 52.8h0M250.4 59.7h0M236.0 62.4h0M223.9 68.1h0M214.3 229.9h0M236.8 236.6h0M203.8 81.3h0M217.5 77.2h0M218.3 101.4h0M219.1 120.7h0M246.4 119.9h0M71.8 153.9h0M65.3 189.6h0M55.7 217.8h0M71.0 229.9h0M69.4 280.8h0M100.2 129.8h0M113.1 150.7h0M110.7 167.6h0" stroke="#ffd9d9" stroke-width="3.2" stroke-opacity="0.7"/><path d="M182.6 298.8h0M214.3 165.2h0M228.4 37.2h0M227.1 238.2h0M222.3 100.6h0M51.7 178.1h0M82.2 147.5h0M59.7 182.4h0" stroke="#ffd9d9" stroke-width="3.2" stroke-opacity="0.6"/><path d="M154.4 127.4h0M193.8 133.8h0M180.2 141.9h0M154.4 196.1h0M160.1 208.1h0M177.8 220.2h0M151.2 226.6h0M182.6 239.8h0M168.9 244.6h0M197.0 245.5h0M151.2 259.1h0M151.2 272.0h0M164.1 286.5h0M150.4 313.3h0M164.1 103.0h0M161.7 103.8h0M200.3 123.1h0M203.8 136.3h0M227.9 162.0h0M248.0 163.6h0M44.4 251.9h0M85.4 257.5h0M71.8 266.4h0M78.2 283.2h0M62.9 287.3h0M86.2 293.2h0M84.6 323.8h0M134.0 162.8h0M112.3 218.6h0M93.8 225.8h0M128.4 189.6h0M127.6 202.5h0M107.5 249.5h0M105.1 256.7h0M134.8 254.3h0M96.2 277.6h0" stroke="#ccccff" stroke-width="3.2" stroke-opacity="0.8"/><path d="M170.5 128.2h0M172.1 137.9h0M152.0 142.7h0M155.2 149.1h0M149.6 189.6h0M168.1 204.1h0M165.7 210.6h0M165.7 231.5h0M172.1 231.5h0M151.2 244.6h0M156.8 246.3h0M174.5 247.1h0M197.9 276.0h0M179.4 290.8h0M168.9 94.9h0M168.1 98.9h0M151.2 121.5h0M207.8 201.7h0M207.8 247.9h0M209.4 252.7h0M207.0 273.6h0M78.2 196.1h0M54.1 238.2h0M49.3 251.9h0M89.5 259.1h0M77.4 268.8h0M81.4 267.2h0M72.6 273.6h0M80.6 294.0h0M54.1 303.7h0M69.4 304.5h0M79.8 346.9h0M146.1 133.0h0M146.1 174.0h0M128.4 178.1h0M100.2 214.6h0M121.1 214.6h0M117.1 233.1h0M133.2 188.8h0M129.2 208.9h0M139.6 208.9h0M101.8 251.9h0M125.2 312.5h0" stroke="#ccccff" stroke-width="3.2" stroke-opacity="0.7"/><path d="M185.8 127.4h0M194.6 189.6h0M190.6 85.3h0M221.5 132.2h0M233.6 178.9h0M207.8 48.0h0M246.4 68.1h0M212.6 90.9h0M118.7 147.5h0M101.0 158.0h0M119.5 160.4h0M117.1 250.3h0M97.8 114.2h0" stroke="#ffcccc" stroke-width="3.2"/><path d="M156.8 132.2h0M161.7 153.1h0M181.8 161.2h0M149.6 220.2h0M191.4 246.3h0M161.7 264.8h0M152.0 310.9h0M160.9 118.2h0M223.1 213.8h0M203.8 233.1h0M81.4 180.8h0M47.6 296.4h0M42.8 310.1h0M64.5 305.3h0M85.4 120.7h0M118.7 135.5h0M135.6 151.5h0M146.1 162.0h0M121.9 196.1h0M100.2 220.2h0M144.5 184.8h0M144.5 208.1h0M96.2 251.1h0M117.9 255.9h0M142.0 277.6h0" stroke="#ccccff" stroke-width="3.2" stroke-opacity="0.6"/><path d="M151.2 147.5h0M184.2 149.1h0M158.5 158.8h0M200.3 184.8h0M196.2 197.7h0M160.9 221.8h0M187.4 219.4h0M191.4 231.5h0M157.6 258.3h0M169.7 257.5h0M173.7 283.2h0M167.3 112.6h0M217.2 40.4h0M204.6 208.9h0M231.9 258.3h0M236.8 263.1h0M218.3 117.4h0M254.5 122.3h0M71.0 144.3h0M83.8 153.9h0M80.6 176.5h0M80.6 216.2h0M63.7 256.7h0M86.2 264.8h0M57.3 290.8h0M76.6 291.6h0M60.5 324.6h0M75.8 338.2h0M68.6 117.0h0M146.9 148.3h0M119.5 189.6h0M134.8 183.2h0M142.9 190.5h0M146.9 204.1h0M138.0 215.4h0M130.0 238.2h0M127.6 294.0h0M99.4 329.4h0" stroke="#ccccff" stroke-width="3.2" stroke-opacity="0.9"/><path d="M189.8 147.5h0M172.1 86.1h0M186.6 120.7h0M217.5 64.9h0M70.2 217.0h0M81.4 223.4h0M107.5 183.2h0M97.8 194.5h0M99.4 196.1h0M131.6 103.8h0M127.6 107.0h0" stroke="#ffcccc" stroke-width="3.2" stroke-opacity="0.6"/><path d="M189.0 151.5h0M196.2 60.0h0M156.0 66.8h0M172.1 196.1h0M231.9 137.9h0M219.1 163.6h0M236.0 52.8h0M240.0 67.3h0M228.7 241.4h0M226.3 273.6h0M215.9 71.9h0M242.4 72.4h0M227.1 85.3h0M205.4 123.1h0M84.6 170.8h0M49.3 204.1h0M84.6 200.9h0M47.6 210.6h0M65.3 233.9h0M80.6 331.8h0M104.3 131.4h0M97.8 140.3h0M119.5 167.6h0M112.3 177.3h0M113.9 200.9h0M118.7 93.3h0" stroke="#ffcccc" stroke-width="3.2" stroke-opacity="0.9"/><path d="M160.9 163.6h0M201.1 199.3h0M155.2 251.1h0M191.4 263.9h0M151.2 293.2h0M173.7 291.6h0M186.6 99.8h0M185.0 106.2h0M176.1 113.4h0M217.5 142.7h0M204.6 238.2h0M85.4 182.4h0M46.8 255.1h0M54.9 254.3h0M63.7 316.5h0M139.6 173.2h0M96.2 191.3h0" stroke="#ccccff" stroke-width="3.2"/><path d="M176.9 67.7h0M172.9 183.2h0M170.5 188.8h0M154.4 296.4h0M184.2 84.5h0M201.1 100.6h0M245.6 140.3h0M219.1 58.4h0M227.1 54.4h0M212.6 68.9h0M205.4 73.2h0M251.2 73.2h0M76.6 141.1h0M73.4 147.5h0M62.1 155.6h0M89.5 153.1h0M75.8 189.6h0M66.9 194.5h0M82.2 196.9h0M89.5 197.7h0M96.2 155.6h0M106.7 155.6h0M115.5 156.4h0M97.0 213.0h0M133.2 108.6h0M141.2 109.4h0" stroke="#ffcccc" stroke-width="3.2" stroke-opacity="0.7"/><path d="M186.6 181.6h0M176.9 204.9h0M168.1 278.4h0M191.4 90.1h0M157.6 94.1h0M227.1 48.0h0M241.6 59.2h0M228.7 67.3h0M248.8 223.4h0M209.4 233.9h0M222.3 256.7h0M229.5 273.6h0M245.6 92.2h0M207.8 113.4h0M63.7 170.0h0M62.1 165.2h0M91.1 190.5h0M61.3 204.9h0M67.8 320.6h0M101.0 137.1h0M115.5 173.2h0M104.3 178.1h0M94.6 205.7h0M121.1 224.2h0M109.9 294.8h0M135.1 85.3h0M109.1 114.2h0M130.0 113.4h0M121.9 118.2h0M117.1 122.3h0M141.2 123.1h0" stroke="#ffcccc" stroke-width="3.2" stroke-opacity="0.8"/><path d="M168.9 133.0h0M160.1 138.7h0M155.2 188.8h0M150.4 197.7h0M177.8 252.7h0M91.9 230.7h0M58.1 318.1h0M112.3 194.5h0M107.5 293.2h0M93.8 301.3h0M127.6 316.5h0" stroke="#bfbfff" stroke-width="3.2"/><path d="M173.7 132.2h0M163.3 142.7h0M164.1 158.0h0M160.1 195.3h0M149.6 236.6h0M222.3 203.3h0M203.8 267.2h0M230.3 98.6h0M91.1 162.0h0M86.2 188.0h0M60.5 195.3h0M52.5 212.2h0M84.6 281.6h0M105.1 227.4h0M134.8 220.2h0M140.4 221.0h0M121.9 259.1h0M102.6 108.6h0" stroke="#bfbfff" stroke-width="3.2" stroke-opacity="0.7"/><path d="M191.4 137.9h0M175.3 142.7h0M196.2 205.7h0M152.8 232.3h0M194.6 241.4h0M178.6 118.2h0M240.8 34.6h0M56.5 174.0h0M91.1 294.8h0M146.1 272.8h0M118.7 294.8h0" stroke="#bfbfff" stroke-width="3.2" stroke-opacity="0.6"/><path d="M156.0 153.1h0M156.8 167.6h0M152.0 183.2h0M199.5 188.8h0M188.2 208.9h0M182.6 222.6h0M159.3 232.3h0M165.7 237.4h0M163.3 259.9h0M186.6 288.9h0M151.2 111.0h0M185.0 116.6h0M215.1 203.3h0M217.5 281.6h0M211.0 123.1h0M69.4 143.5h0M90.3 248.7h0M53.3 292.4h0M67.8 292.4h0M89.5 314.1h0M87.9 319.8h0M61.3 333.4h0M132.4 137.1h0M139.6 161.2h0M109.1 208.1h0M130.0 182.4h0M138.0 203.3h0M146.9 215.4h0M146.1 258.3h0" stroke="#bfbfff" stroke-width="3.2" stroke-opacity="0.9"/><path d="M181.8 166.8h0M182.6 209.8h0M186.6 264.8h0M185.0 297.2h0M156.8 99.8h0M223.9 125.8h0M231.1 49.6h0M205.4 228.2h0M219.1 272.0h0M76.6 163.6h0M75.0 168.4h0M104.3 180.8h0M131.6 94.9h0M102.6 98.9h0M106.7 102.2h0M126.8 116.6h0M132.4 120.7h0" stroke="#ffbfbf" stroke-width="3.2" stroke-opacity="0.8"/><path d="M172.1 178.9h0M212.6 63.2h0M249.6 191.3h0M235.2 76.4h0M71.0 164.4h0M83.8 334.2h0M120.3 205.7h0M138.8 186.4h0M99.4 122.3h0" stroke="#ffbfbf" stroke-width="3.2" stroke-opacity="0.7"/><path d="M173.7 191.3h0M187.4 204.1h0M176.9 86.9h0M75.0 209.8h0M100.2 210.6h0" stroke="#ffbfbf" stroke-width="3.2"/><path d="M181.8 192.1h0M209.4 145.1h0M240.0 149.1h0M223.1 40.7h0M246.4 42.7h0M235.2 68.1h0M244.8 211.4h0M83.0 328.6h0M77.1 109.9h0M117.1 217.0h0M112.3 273.6h0M144.5 111.8h0" stroke="#ffbfbf" stroke-width="3.2" stroke-opacity="0.9"/><path d="M201.1 215.4h0M223.9 63.2h0M222.3 92.5h0M75.8 343.1h0M80.6 123.1h0" stroke="#ffbfbf" stroke-width="3.2" stroke-opacity="0.6"/><path d="M156.0 291.6h0M186.6 290.8h0M155.2 313.3h0M203.8 251.1h0M236.8 111.0h0M86.2 223.4h0M75.0 233.1h0M47.6 233.1h0M70.2 262.3h0M71.8 318.1h0M76.6 318.9h0M89.5 324.6h0M130.0 128.2h0M95.4 221.8h0M146.9 181.6h0M141.2 197.7h0M96.2 296.4h0M100.2 310.9h0M107.5 318.1h0" stroke="#bfbfff" stroke-width="3.2" stroke-opacity="0.8"/><path d="M172.1 166.0h0M201.1 66.8h0M236.0 56.5h0M146.1 86.9h0" stroke="#ffb2b2" stroke-width="3.2" stroke-opacity="0.8"/><path d="M138.8 296.4h0" stroke="#ffb2b2" stroke-width="3.2" stroke-opacity="0.7"/><path d="M115.5 315.7h0" stroke="#ffb2b2" stroke-width="3.2" stroke-opacity="0.9"/><path d="M187.4 158.0h0M215.1 245.9h0" stroke="#a6a6ff" stroke-width="3.2" stroke-opacity="0.7"/><path d="M170.5 173.2h0M201.1 166.8h0M197.9 174.9h0M152.0 76.8h0M244.5 49.6h0M121.9 133.0h0M104.3 243.0h0" stroke="#ffa6a6" stroke-width="3.2" stroke-opacity="0.8"/><path d="M196.2 161.2h0M194.6 164.4h0M191.4 167.6h0M178.6 268.8h0M186.6 275.2h0M164.1 85.3h0M211.0 154.8h0M217.5 191.3h0M116.3 98.6h0" stroke="#ffa6a6" stroke-width="3.2"/><path d="M188.2 170.8h0M156.0 77.2h0M237.6 142.7h0M86.2 196.1h0M101.0 319.8h0" stroke="#ffa6a6" stroke-width="3.2" stroke-opacity="0.7"/><path d="M199.5 178.9h0M191.4 74.5h0M196.2 83.7h0M152.0 97.3h0M231.9 123.1h0M80.6 340.7h0M108.3 264.8h0M105.9 280.8h0M139.6 103.0h0" stroke="#ffa6a6" stroke-width="3.2" stroke-opacity="0.9"/><path d="M191.4 59.7h0M114.7 96.5h0" stroke="#a6a6ff" stroke-width="3.2"/><path d="M180.2 297.2h0M206.2 221.8h0M210.2 240.6h0M58.1 158.0h0M94.6 243.8h0" stroke="#a6a6ff" stroke-width="3.2" stroke-opacity="0.8"/><path d="M206.5 56.0h0M71.8 243.0h0M64.5 263.9h0M101.0 111.5h0" stroke="#a6a6ff" stroke-width="3.2" stroke-opacity="0.9"/><path d="M200.3 141.1h0M173.7 154.8h0M75.0 314.9h0" stroke="#9999ff" stroke-width="3.2"/><path d="M170.5 159.6h0M151.2 168.4h0M182.6 257.5h0M186.6 281.6h0M203.8 63.2h0M89.5 243.0h0M75.0 255.9h0M79.0 246.3h0M75.0 263.1h0M93.8 129.8h0M126.8 277.6h0M137.2 276.0h0" stroke="#9999ff" stroke-width="3.2" stroke-opacity="0.9"/><path d="M185.0 159.6h0M192.2 159.6h0M201.9 176.5h0M182.6 182.4h0M199.5 281.6h0M167.3 301.3h0M220.7 178.9h0M231.1 225.8h0M217.5 108.6h0M223.1 110.2h0M97.8 292.4h0" stroke="#ff9999" stroke-width="3.2" stroke-opacity="0.9"/><path d="M176.9 174.0h0M178.6 76.1h0M216.7 174.9h0M218.3 187.2h0M237.6 116.6h0M71.8 167.6h0M138.8 145.1h0" stroke="#ff9999" stroke-width="3.2" stroke-opacity="0.7"/><path d="M189.8 174.9h0M168.9 67.7h0M191.4 183.2h0M172.1 204.1h0M186.6 243.8h0M159.3 270.7h0M154.4 285.7h0M180.2 299.6h0M167.0 77.7h0M236.8 133.8h0M230.3 172.4h0M209.4 180.0h0M223.9 217.8h0M204.6 76.4h0M236.0 78.8h0M140.0 88.0h0" stroke="#ff9999" stroke-width="3.2" stroke-opacity="0.8"/><path d="M188.2 251.9h0M69.4 255.1h0M133.2 307.7h0M97.0 111.5h0" stroke="#9999ff" stroke-width="3.2" stroke-opacity="0.7"/><path d="M155.2 91.7h0M203.8 154.8h0M240.0 62.0h0M238.4 107.0h0M230.3 112.6h0M82.2 121.5h0M114.7 272.0h0M104.3 313.3h0" stroke="#ff9999" stroke-width="3.2"/><path d="M209.4 272.8h0M45.2 129.5h0M59.7 159.6h0M89.5 229.0h0" stroke="#9999ff" stroke-width="3.2" stroke-opacity="0.8"/><path d="M168.9 141.1h0M200.3 265.6h0M150.4 297.2h0M175.3 296.4h0M170.5 99.8h0M94.6 233.1h0M114.7 251.1h0M106.7 326.2h0M135.6 117.4h0" stroke="#8c8cff" stroke-width="3.2" stroke-opacity="0.8"/><path d="M179.4 149.9h0M93.8 107.8h0" stroke="#8c8cff" stroke-width="3.2"/><path d="M175.3 176.5h0M178.6 287.3h0M191.4 287.3h0M67.8 242.2h0M144.5 200.9h0M112.3 259.1h0M97.0 305.3h0M138.8 92.2h0" stroke="#8c8cff" stroke-width="3.2" stroke-opacity="0.9"/><path d="M193.8 154.8h0M243.2 222.6h0M233.6 77.2h0M55.7 182.9h0" stroke="#ff8c8c" stroke-width="3.2" stroke-opacity="0.7"/><path d="M196.2 156.4h0M189.0 158.8h0M194.6 178.9h0M193.5 62.1h0M151.2 186.4h0M195.4 252.7h0M242.4 134.6h0M213.5 145.1h0" stroke="#ff8c8c" stroke-width="3.2"/><path d="M199.5 162.0h0M201.9 164.4h0M193.0 171.6h0M211.0 126.6h0M213.5 127.4h0M216.7 162.8h0M233.6 44.8h0M71.0 181.6h0M91.1 306.9h0M143.7 286.5h0" stroke="#ff8c8c" stroke-width="3.2" stroke-opacity="0.9"/><path d="M189.8 163.6h0M201.1 171.6h0M183.7 57.1h0M201.9 272.8h0M205.4 174.9h0M237.1 44.3h0M222.3 184.0h0M232.8 186.4h0M246.4 216.2h0M117.9 128.2h0M104.3 272.0h0M109.1 276.0h0M104.3 300.5h0" stroke="#ff8c8c" stroke-width="3.2" stroke-opacity="0.8"/><path d="M169.7 182.4h0M58.9 172.4h0M66.9 309.3h0" stroke="#8c8cff" stroke-width="3.2" stroke-opacity="0.7"/><path d="M196.2 137.9h0M201.1 134.6h0M177.8 236.6h0M168.9 290.8h0M206.2 131.4h0M81.4 287.3h0M70.2 326.2h0M144.5 247.1h0" stroke="#8080ff" stroke-width="3.2" stroke-opacity="0.8"/><path d="M168.9 166.8h0M218.3 44.8h0" stroke="#8080ff" stroke-width="3.2"/><path d="M157.6 178.1h0M204.6 263.9h0M62.1 283.2h0" stroke="#8080ff" stroke-width="3.2" stroke-opacity="0.7"/><path d="M199.5 158.0h0M172.9 66.8h0M246.4 133.8h0M245.1 53.0h0M236.0 192.1h0M212.6 255.1h0M77.4 121.1h0" stroke="#ff8080" stroke-width="3.2" stroke-opacity="0.8"/><path d="M196.2 168.4h0M177.8 180.0h0M178.6 193.7h0M186.6 193.7h0M199.5 77.2h0M235.2 125.0h0M213.5 141.1h0M208.6 159.6h0M204.6 167.6h0M219.1 216.2h0M216.7 91.7h0M91.9 130.6h0M75.8 158.5h0M105.1 144.3h0M99.4 236.6h0M141.2 288.1h0" stroke="#ff8080" stroke-width="3.2" stroke-opacity="0.9"/><path d="M186.6 69.7h0M236.8 103.0h0M70.2 174.9h0M90.3 174.9h0M105.1 277.6h0" stroke="#ff8080" stroke-width="3.2" stroke-opacity="0.7"/><path d="M197.0 266.4h0M231.6 42.7h0M86.2 231.5h0M45.2 276.8h0M66.1 276.8h0" stroke="#8080ff" stroke-width="3.2" stroke-opacity="0.9"/><path d="M149.3 95.7h0M227.9 131.4h0M204.6 68.9h0M232.8 95.7h0M72.6 171.6h0M104.3 162.8h0M97.8 273.6h0M103.5 297.2h0M94.6 315.7h0M136.1 98.1h0" stroke="#ff8080" stroke-width="3.2"/><path d="M185.0 149.9h0M186.6 168.4h0M196.2 173.2h0M150.4 309.3h0M175.3 74.0h0M161.7 89.6h0M248.8 138.7h0M219.9 151.5h0M232.8 52.8h0M245.6 87.7h0M239.2 108.6h0M87.9 176.5h0M54.1 207.0h0M135.6 242.2h0M119.5 310.1h0" stroke="#ff7373" stroke-width="3.2" stroke-opacity="0.8"/><path d="M201.9 155.6h0M197.9 165.2h0M180.2 178.1h0M201.1 80.5h0M196.2 94.9h0M225.5 137.1h0M215.1 150.7h0M203.8 49.6h0M209.4 235.0h0M227.1 112.6h0M229.5 115.8h0M55.7 222.6h0M116.3 273.6h0M123.6 282.4h0M134.8 302.1h0" stroke="#ff7373" stroke-width="3.2" stroke-opacity="0.9"/><path d="M179.4 162.8h0M239.7 57.1h0M219.1 226.6h0M216.7 114.2h0M91.1 336.6h0" stroke="#ff7373" stroke-width="3.2" stroke-opacity="0.7"/><path d="M168.1 214.6h0M209.4 39.4h0M213.5 40.4h0M118.7 304.5h0" stroke="#7373ff" stroke-width="3.2" stroke-opacity="0.9"/><path d="M185.0 271.2h0M79.8 338.2h0M91.9 107.8h0M122.8 236.6h0M138.5 82.9h0" stroke="#7373ff" stroke-width="3.2" stroke-opacity="0.8"/><path d="M193.0 276.0h0M50.1 240.6h0M146.1 236.6h0" stroke="#7373ff" stroke-width="3.2" stroke-opacity="0.7"/><path d="M223.9 228.2h0" stroke="#ff7373" stroke-width="3.2"/><path d="M97.8 228.2h0" stroke="#7373ff" stroke-width="3.2"/><path d="M201.9 243.8h0" stroke="#ff6666" stroke-width="3.2" stroke-opacity="0.8"/><path d="M179.4 283.2h0M211.0 131.8h0M127.6 214.6h0" stroke="#6666ff" stroke-width="3.2" stroke-opacity="0.7"/><path d="M185.0 284.9h0M189.0 283.2h0M203.8 260.7h0M63.7 241.4h0M66.9 251.1h0M72.6 282.4h0M74.2 330.2h0" stroke="#6666ff" stroke-width="3.2" stroke-opacity="0.9"/><path d="M177.8 81.3h0M182.6 109.4h0" stroke="#ff6666" stroke-width="3.2" stroke-opacity="0.9"/><path d="M164.1 80.9h0" stroke="#ff6666" stroke-width="3.2"/><path d="M172.9 88.5h0M207.8 141.1h0M60.5 249.5h0" stroke="#6666ff" stroke-width="3.2" stroke-opacity="0.8"/><path d="M203.8 273.6h0" stroke="#6666ff" stroke-width="3.2"/><path d="M188.2 63.2h0M177.8 198.5h0M219.9 232.3h0M69.4 348.0h0M93.8 338.2h0M94.6 342.3h0" stroke="#ff5959" stroke-width="3.2"/><path d="M183.4 269.6h0M191.4 281.6h0M191.7 71.3h0M155.7 96.1h0M219.1 189.6h0M71.8 338.2h0M86.2 339.0h0M88.7 341.5h0M141.2 290.8h0M137.2 323.8h0" stroke="#ff5959" stroke-width="3.2" stroke-opacity="0.9"/><path d="M169.7 164.4h0M208.6 178.1h0M210.2 111.5h0M101.8 332.6h0" stroke="#ff4d4d" stroke-width="3.2"/><path d="M201.1 232.3h0M189.8 278.4h0M176.1 301.3h0M229.5 187.2h0M236.8 189.6h0M223.1 226.6h0M217.5 243.0h0M219.9 247.5h0M208.6 264.8h0M236.0 123.9h0M93.8 177.3h0M103.5 276.0h0M113.9 270.4h0M111.5 280.8h0M112.3 284.0h0M137.2 311.7h0M113.9 98.6h0" stroke="#ff4d4d" stroke-width="3.2" stroke-opacity="0.9"/><path d="M177.8 264.8h0M165.7 294.5h0M148.8 299.6h0M171.3 71.9h0M176.6 71.3h0M182.6 72.4h0M181.8 81.6h0M217.5 178.1h0M227.9 186.4h0M215.9 271.2h0M215.1 275.2h0M204.6 278.4h0M231.1 110.2h0M80.6 314.1h0M58.9 336.6h0M100.2 267.2h0M136.4 295.6h0M125.2 95.4h0" stroke="#ff4040" stroke-width="3.2" stroke-opacity="0.9"/><path d="M201.1 288.1h0M199.8 71.9h0M151.2 90.9h0M211.0 169.2h0M236.0 199.3h0M228.7 123.1h0M91.1 343.1h0M106.7 324.6h0" stroke="#ff4040" stroke-width="3.2"/><path d="M54.1 137.9h0M83.8 245.5h0" stroke="#4040ff" stroke-width="3.2" stroke-opacity="0.9"/><path d="M57.3 139.2h0" stroke="#4040ff" stroke-width="3.2"/><path d="M196.2 67.3h0M155.2 271.2h0M197.0 282.9h0M196.2 286.5h0M187.9 70.8h0M173.7 77.2h0M207.8 153.1h0M232.8 121.5h0M89.5 305.3h0M56.5 335.0h0M121.1 277.6h0M119.5 285.7h0M129.2 302.1h0M132.4 314.9h0" stroke="#ff3333" stroke-width="3.2" stroke-opacity="0.9"/><path d="M169.7 80.0h0M242.4 48.5h0M232.8 189.6h0M211.0 282.9h0M117.1 117.0h0" stroke="#ff3333" stroke-width="3.2"/><path d="M65.7 138.2h0M52.5 245.5h0M83.0 239.8h0" stroke="#3333ff" stroke-width="3.2" stroke-opacity="0.9"/><path d="M52.5 167.6h0" stroke="#3333ff" stroke-width="3.2"/><path d="M190.1 63.7h0M182.3 67.3h0M148.8 306.9h0M205.4 158.8h0M222.3 196.1h0M219.9 223.4h0M221.5 236.9h0M205.4 276.0h0M223.9 115.0h0M236.8 119.0h0M77.4 339.9h0M139.6 227.1h0M99.4 306.1h0M97.8 321.4h0" stroke="#ff2626" stroke-width="3.2" stroke-opacity="0.9"/><path d="M205.4 163.6h0M207.0 166.0h0M234.4 229.0h0M211.8 275.2h0M59.7 143.5h0M63.7 335.8h0M71.8 352.8h0M111.5 318.9h0M109.9 326.2h0M111.5 108.3h0" stroke="#ff2626" stroke-width="3.2"/><path d="M58.9 150.4h0M48.9 153.9h0M75.8 251.1h0M77.4 313.3h0M79.0 117.4h0" stroke="#2626ff" stroke-width="3.2" stroke-opacity="0.9"/><path d="M50.1 151.5h0" stroke="#2626ff" stroke-width="3.2"/><path d="M189.5 153.9h0M186.6 66.5h0M166.5 192.1h0M156.0 281.6h0M167.3 282.9h0M182.6 282.4h0M187.4 82.1h0M152.8 81.6h0M218.3 173.2h0M218.3 200.9h0M240.8 196.9h0M240.8 214.6h0M233.6 233.9h0M226.3 107.0h0M62.9 144.0h0M91.9 177.3h0M100.2 294.8h0M145.3 303.7h0M116.3 327.0h0M95.4 327.8h0M126.3 90.1h0" stroke="#ff1919" stroke-width="3.2" stroke-opacity="0.9"/><path d="M191.1 155.6h0M182.6 286.5h0M196.2 72.4h0M163.3 87.7h0M215.1 182.9h0M111.5 302.1h0M120.3 316.5h0" stroke="#ff1919" stroke-width="3.2"/><path d="M56.5 136.6h0M46.8 176.1h0" stroke="#1919ff" stroke-width="3.2"/><path d="M63.7 136.3h0M67.8 149.1h0M72.6 253.5h0" stroke="#1919ff" stroke-width="3.2" stroke-opacity="0.9"/><path d="M185.8 61.6h0M191.4 68.9h0M156.8 309.3h0M186.6 76.8h0M216.7 222.6h0M221.5 225.0h0M83.0 117.9h0M120.3 272.8h0M113.1 278.4h0M114.7 296.4h0M121.9 309.3h0M108.3 323.0h0M114.7 324.6h0M103.5 328.6h0M98.6 331.0h0" stroke="#ff0d0d" stroke-width="3.2" stroke-opacity="0.9"/><path d="M190.6 250.8h0M198.7 273.6h0M174.5 288.1h0M174.5 80.5h0M210.2 170.8h0M219.9 172.9h0M242.4 193.7h0M118.7 278.4h0M115.5 288.1h0M131.6 301.3h0M124.4 321.8h0" stroke="#ff0d0d" stroke-width="3.2"/><path d="M56.0 148.8h0M54.9 154.8h0" stroke="#0d0dff" stroke-width="3.2" stroke-opacity="0.9"/><path d="M84.2 111.0h0" stroke="#0d0dff" stroke-width="3.2"/><path d="M189.0 238.2h0M194.6 277.6h0M219.1 251.1h0M56.5 208.9h0M105.9 274.4h0M112.3 312.5h0M93.8 320.6h0" stroke="#ff0000" stroke-width="3.2" stroke-opacity="0.9"/><path d="M51.7 137.1h0M46.8 159.6h0M81.4 248.7h0" stroke="#0000ff" stroke-width="3.2" stroke-opacity="0.9"/><path d="M55.7 141.9h0" stroke="#0000ff" stroke-width="3.2"/><path d="M91.9 316.5h0" stroke="#ff0000" stroke-width="3.2"/></g>
<g stroke-linecap="butt"><polyline points="39.64,106.31 210.32,18.57" fill="none" stroke="#000" stroke-width="1.3"/><polyline points="39.64,106.31 41.38,355.32" fill="none" stroke="#000" stroke-width="1.3"/><polyline points="41.38,355.32 83.39,368.96" fill="none" stroke="#000" stroke-width="1.3"/><polyline points="42.52,106.34 42.47,100.24" fill="none" stroke="#000" stroke-width="1.1"/><polyline points="83.56,85.24 83.52,79.14" fill="none" stroke="#000" stroke-width="1.1"/><polyline points="124.61,64.14 124.57,58.04" fill="none" stroke="#000" stroke-width="1.1"/><polyline points="165.65,43.04 165.61,36.94" fill="none" stroke="#000" stroke-width="1.1"/><polyline points="206.70,21.94 206.66,15.84" fill="none" stroke="#000" stroke-width="1.1"/><polyline points="42.94,349.97 37.43,352.80" fill="none" stroke="#000" stroke-width="1.1"/><polyline points="42.53,290.02 37.01,292.85" fill="none" stroke="#000" stroke-width="1.1"/><polyline points="42.11,230.07 36.59,232.90" fill="none" stroke="#000" stroke-width="1.1"/><polyline points="41.69,170.12 36.18,172.96" fill="none" stroke="#000" stroke-width="1.1"/><polyline points="41.27,110.17 35.76,113.01" fill="none" stroke="#000" stroke-width="1.1"/><polyline points="41.82,355.10 37.11,357.52" fill="none" stroke="#000" stroke-width="1.1"/><polyline points="62.83,361.92 58.11,364.34" fill="none" stroke="#000" stroke-width="1.1"/><polyline points="83.83,368.73 79.12,371.16" fill="none" stroke="#000" stroke-width="1.1"/></g>
<g font-family="Liberation Serif" stroke="#000" stroke-width="0.3"><text x="22.66" y="92.28" textLength="33.49" lengthAdjust="spacingAndGlyphs" font-size="12.2" fill="#000">−0.50</text><text x="62.56" y="71.67" textLength="33.49" lengthAdjust="spacingAndGlyphs" font-size="12.2" fill="#000">−0.25</text><text x="108.42" y="50.17" textLength="24.68" lengthAdjust="spacingAndGlyphs" font-size="12.2" fill="#000">0.00</text><text x="150.45" y="29.18" textLength="23.63" lengthAdjust="spacingAndGlyphs" font-size="12.2" fill="#000">0.25</text><text x="190.94" y="7.88" textLength="23.84" lengthAdjust="spacingAndGlyphs" font-size="12.2" fill="#000">0.50</text><text x="9.81" y="125.47" textLength="24.59" lengthAdjust="spacingAndGlyphs" font-size="12.2" fill="#000">1.00</text><text x="10.75" y="184.97" textLength="23.74" lengthAdjust="spacingAndGlyphs" font-size="12.2" fill="#000">0.75</text><text x="11.05" y="245.07" textLength="23.63" lengthAdjust="spacingAndGlyphs" font-size="12.2" fill="#000">0.50</text><text x="11.44" y="304.88" textLength="24.16" lengthAdjust="spacingAndGlyphs" font-size="12.2" fill="#000">0.25</text><text x="11.83" y="364.38" textLength="24.37" lengthAdjust="spacingAndGlyphs" font-size="12.2" fill="#000">0.00</text><text x="15.38" y="391.18" textLength="25.76" lengthAdjust="spacingAndGlyphs" font-size="12.2" fill="#000">−0.1</text><text x="40.14" y="397.38" textLength="17.04" lengthAdjust="spacingAndGlyphs" font-size="12.2" fill="#000">0.0</text><text x="60.24" y="403.48" textLength="17.02" lengthAdjust="spacingAndGlyphs" font-size="12.2" fill="#000">0.1</text><text x="293.94" y="58.17" textLength="23.95" lengthAdjust="spacingAndGlyphs" font-size="12.2" fill="#000">0.10</text><text x="293.94" y="109.78" textLength="23.95" lengthAdjust="spacingAndGlyphs" font-size="12.2" fill="#000">0.05</text><text x="293.94" y="160.97" textLength="23.95" lengthAdjust="spacingAndGlyphs" font-size="12.2" fill="#000">0.00</text><text x="294.07" y="212.68" textLength="33.29" lengthAdjust="spacingAndGlyphs" font-size="12.2" fill="#000">−0.05</text><text x="294.07" y="264.27" textLength="33.29" lengthAdjust="spacingAndGlyphs" font-size="12.2" fill="#000">−0.10</text></g>
<g font-family="Liberation Serif"><g transform="translate(118,17.5) rotate(-27)"><text x="0" y="3.6" font-size="12.5" font-style="italic" text-anchor="middle" stroke="#000" stroke-width="0.35">x</text><text x="-0.6" y="-1.6" font-size="9.5" text-anchor="middle" stroke="#000" stroke-width="0.3">~</text></g><g transform="translate(3.6,243)"><text x="0" y="4.3" font-size="12.5" font-style="italic" text-anchor="middle" stroke="#000" stroke-width="0.35">y</text><text x="0.6" y="-1.8" font-size="9.5" text-anchor="middle" stroke="#000" stroke-width="0.3">~</text></g><g transform="translate(33,419.2) rotate(18)"><text x="0" y="4.2" font-size="12.5" font-style="italic" text-anchor="middle" stroke="#000" stroke-width="0.35">z</text><text x="0.6" y="-0.6" font-size="9" text-anchor="middle" stroke="#000" stroke-width="0.3">~</text></g><g transform="translate(337.5,157) rotate(-90)"><text x="0" y="4.2" font-size="11.5" text-anchor="middle" stroke="#000" stroke-width="0.35">Θ</text><text x="0.5" y="-3.6" font-size="8.5" text-anchor="middle" stroke="#000" stroke-width="0.3">~</text></g></g>
<defs><linearGradient id="bwr" x1="0" y1="0" x2="0" y2="1"><stop offset="0" stop-color="#ff0000"/><stop offset="0.5" stop-color="#ffffff"/><stop offset="1" stop-color="#0000ff"/></linearGradient></defs><rect x="273.3" y="54.1" width="11.40" height="206.00" fill="url(#bwr)"/><polygon points="273.3,54.7 273.3,54.1 279.0,43.8 284.7,54.1 284.7,54.7" fill="#ff0000"/><polygon points="273.3,259.5 273.3,260.1 279.0,270.70000000000005 284.7,260.1 284.7,259.5" fill="#0000ff"/><polygon points="273.3,54.1 279.0,43.8 284.7,54.1 284.7,260.1 279.0,270.70000000000005 273.3,260.1" fill="none" stroke="#000" stroke-width="1.3" stroke-linejoin="miter"/><line x1="284.7" y1="54.10" x2="289.30" y2="54.10" stroke="#000" stroke-width="1.1"/><line x1="284.7" y1="105.60" x2="289.30" y2="105.60" stroke="#000" stroke-width="1.1"/><line x1="284.7" y1="157.10" x2="289.30" y2="157.10" stroke="#000" stroke-width="1.1"/><line x1="284.7" y1="208.60" x2="289.30" y2="208.60" stroke="#000" stroke-width="1.1"/><line x1="284.7" y1="260.10" x2="289.30" y2="260.10" stroke="#000" stroke-width="1.1"/>
</svg></body></html>
